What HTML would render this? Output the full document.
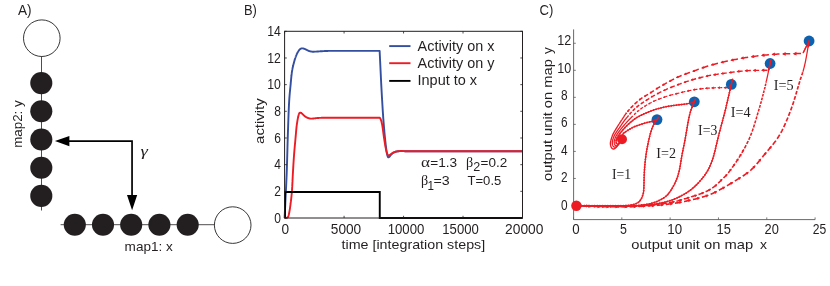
<!DOCTYPE html>
<html><head><meta charset="utf-8"><title>Figure</title>
<style>
html,body{margin:0;padding:0;background:#fff;}
body{width:830px;height:286px;overflow:hidden;font-family:"Liberation Sans",sans-serif;}
svg{display:block;will-change:transform;}
text{white-space:pre;}
</style></head><body>
<svg width="830" height="286" viewBox="0 0 830 286">
<rect width="830" height="286" fill="#fff"/>
<text x="18.00" y="14.70" font-size="14" font-family="Liberation Sans" fill="#231f20" textLength="13.60" lengthAdjust="spacingAndGlyphs" >A)</text>
<line x1="41.5" y1="56" x2="41.5" y2="210.5" stroke="#231f20" stroke-width="0.8"/>
<line x1="60.6" y1="224.7" x2="215" y2="224.7" stroke="#231f20" stroke-width="0.8"/>
<circle cx="41.8" cy="38.2" r="18.3" fill="#fff" stroke="#231f20" stroke-width="0.9"/>
<circle cx="232.7" cy="225.1" r="18.3" fill="#fff" stroke="#231f20" stroke-width="0.9"/>
<circle cx="41.3" cy="83.1" r="11.05" fill="#231f20"/>
<circle cx="41.3" cy="111.3" r="11.05" fill="#231f20"/>
<circle cx="41.3" cy="139.5" r="11.05" fill="#231f20"/>
<circle cx="41.3" cy="167.7" r="11.05" fill="#231f20"/>
<circle cx="41.3" cy="195.9" r="11.05" fill="#231f20"/>
<circle cx="74.8" cy="224.7" r="11.05" fill="#231f20"/>
<circle cx="103.0" cy="224.7" r="11.05" fill="#231f20"/>
<circle cx="131.2" cy="224.7" r="11.05" fill="#231f20"/>
<circle cx="159.4" cy="224.7" r="11.05" fill="#231f20"/>
<circle cx="187.7" cy="224.7" r="11.05" fill="#231f20"/>
<path d="M68 141.2H132.05V196" fill="none" stroke="#000" stroke-width="1.7"/>
<path d="M54.9 141.1L69.4 135.9V146.3Z" fill="#000"/>
<path d="M132.1 210.3L127.0 195.1H137.2Z" fill="#000"/>
<text x="140.60" y="155.90" font-size="15.5" font-family="Liberation Serif" fill="#231f20" textLength="7.40" lengthAdjust="spacingAndGlyphs" font-style="italic">γ</text>
<text x="21.70" y="147.80" font-size="13.5" font-family="Liberation Sans" fill="#231f20" textLength="47.50" lengthAdjust="spacingAndGlyphs" transform="rotate(-90 21.70 147.80)" >map2: y</text>
<text x="124.60" y="250.70" font-size="13.5" font-family="Liberation Sans" fill="#231f20" textLength="48.20" lengthAdjust="spacingAndGlyphs" >map1: x</text>
<text x="244.00" y="14.50" font-size="14" font-family="Liberation Sans" fill="#231f20" textLength="12.90" lengthAdjust="spacingAndGlyphs" >B)</text>
<path d="M284.60 218.00L284.72 215.54L284.84 213.09L284.84 213.08L284.96 210.60L285.08 208.12L285.08 208.10L285.20 205.60L285.31 203.11L285.32 203.08L285.44 200.54L285.55 198.04L285.55 198.00L285.67 195.52L285.79 193.13L285.79 193.08L285.91 190.66L286.03 188.29L286.03 188.23L286.15 185.75L286.27 183.28L286.27 183.21L286.39 180.57L286.51 177.90L286.51 177.80L286.63 174.89L286.74 171.92L286.75 171.80L286.87 168.38L286.98 164.76L286.99 164.59L287.11 160.53L287.22 156.47L287.23 156.27L287.35 151.93L287.46 147.79L287.46 147.58L287.58 143.32L287.70 139.46L287.70 139.24L287.82 135.44L287.93 132.12L287.94 131.92L288.06 128.40L288.17 125.12L288.18 124.90L288.30 121.44L288.41 118.28L288.42 118.06L288.54 114.81L288.65 111.93L288.66 111.72L288.78 108.83L288.89 106.36L288.90 106.17L289.02 103.80L289.13 101.89L289.14 101.74L289.25 99.89L289.36 98.32L289.37 98.19L289.49 96.60L289.60 95.24L289.61 95.12L289.73 93.72L289.84 92.51L289.85 92.39L289.97 91.13L290.08 90.01L290.09 89.90L290.21 88.69L290.32 87.61L290.33 87.49L290.45 86.29L290.55 85.19L290.57 85.06L290.69 83.79L290.79 82.65L290.81 82.50L290.93 81.21L291.03 80.06L291.04 79.91L291.16 78.64L291.27 77.54L291.28 77.40L291.40 76.20L291.51 75.21L291.52 75.07L291.64 74.02L291.75 73.17L291.76 73.06L291.88 72.20L291.98 71.54L292.00 71.45L292.12 70.73L292.22 70.13L292.24 70.04L292.36 69.39L292.46 68.85L292.48 68.77L292.60 68.17L292.70 67.68L292.72 67.60L292.84 67.05L292.94 66.59L292.95 66.52L293.07 66.01L293.18 65.58L293.19 65.51L293.31 65.03L293.41 64.63L293.43 64.56L293.55 64.10L293.65 63.71L293.67 63.64L293.79 63.19L293.89 62.82L293.91 62.75L294.03 62.30L294.13 61.93L294.15 61.85L294.27 61.41L294.37 61.05L294.39 60.98L294.51 60.55L294.60 60.21L294.63 60.14L294.74 59.74L294.84 59.41L294.86 59.34L294.98 58.96L295.08 58.65L295.10 58.59L295.22 58.23L295.32 57.94L295.34 57.87L295.46 57.53L295.56 57.27L295.58 57.20L295.70 56.88L295.80 56.62L295.82 56.56L295.94 56.25L296.03 56.00L296.06 55.94L296.18 55.63L296.27 55.39L296.30 55.33L296.42 55.04L296.51 54.81L296.53 54.75L296.65 54.47L296.75 54.25L296.77 54.19L296.89 53.93L296.99 53.72L297.01 53.67L297.13 53.42L297.22 53.23L297.25 53.17L297.37 52.94L297.46 52.77L297.49 52.72L297.61 52.50L297.70 52.34L297.73 52.30L297.85 52.09L297.94 51.94L297.97 51.89L298.09 51.70L298.18 51.55L298.21 51.50L298.33 51.31L298.42 51.17L298.44 51.12L298.56 50.94L298.65 50.81L298.68 50.76L298.80 50.59L298.89 50.46L298.92 50.42L299.04 50.26L299.13 50.14L299.16 50.10L299.28 49.95L299.37 49.85L299.40 49.81L299.52 49.68L299.61 49.58L299.64 49.55L299.76 49.43L299.84 49.35L299.88 49.32L300.00 49.22L300.08 49.16L300.12 49.13L300.23 49.04L300.32 48.98L300.35 48.95L300.47 48.87L300.56 48.81L300.59 48.79L300.71 48.72L300.80 48.67L300.83 48.65L300.95 48.60L301.04 48.56L301.07 48.55L301.19 48.52L301.27 48.50L301.31 48.49L301.43 48.47L301.51 48.46L301.55 48.45L301.67 48.43L301.75 48.42L301.79 48.42L301.91 48.40L301.99 48.39L302.02 48.39L302.14 48.38L302.23 48.38L302.26 48.37L302.38 48.37L302.46 48.37L302.50 48.37L302.62 48.38L302.70 48.38L302.74 48.39L302.86 48.40L302.94 48.42L302.98 48.42L303.10 48.45L303.18 48.46L303.22 48.47L303.34 48.50L303.42 48.53L303.46 48.54L303.58 48.57L303.66 48.59L303.70 48.61L303.81 48.64L303.89 48.67L303.93 48.68L304.05 48.72L304.13 48.74L304.17 48.75L304.29 48.79L304.37 48.82L304.41 48.83L304.53 48.87L304.61 48.91L304.65 48.92L304.77 48.97L304.85 49.01L304.89 49.03L305.01 49.08L305.09 49.12L305.13 49.14L305.25 49.20L305.32 49.24L305.37 49.26L305.49 49.32L305.56 49.36L305.61 49.38L305.72 49.44L305.80 49.47L305.84 49.49L305.96 49.55L306.04 49.58L306.08 49.60L306.20 49.66L306.28 49.69L306.32 49.71L306.44 49.77L306.51 49.81L306.56 49.83L306.68 49.89L306.75 49.93L306.80 49.95L306.92 50.01L306.99 50.05L307.04 50.07L307.16 50.14L307.23 50.17L307.28 50.20L307.40 50.26L307.47 50.30L307.51 50.32L307.63 50.38L307.71 50.42L307.75 50.44L307.87 50.50L307.94 50.54L307.99 50.56L308.11 50.62L308.18 50.65L308.23 50.67L308.35 50.73L308.42 50.76L308.47 50.78L308.59 50.83L308.66 50.86L308.71 50.88L308.83 50.93L308.90 50.96L308.95 50.98L309.07 51.02L309.13 51.04L309.19 51.06L309.31 51.10L309.37 51.12L309.42 51.13L309.54 51.16L309.61 51.18L309.66 51.19L309.78 51.22L309.85 51.24L309.90 51.25L310.02 51.28L310.09 51.29L310.14 51.31L310.26 51.33L310.33 51.35L310.38 51.36L310.50 51.39L310.56 51.40L310.62 51.42L310.74 51.44L310.80 51.46L310.86 51.47L310.98 51.49L311.04 51.51L311.10 51.52L311.21 51.54L311.28 51.55L311.33 51.56L311.45 51.58L311.52 51.59L311.57 51.60L311.69 51.62L311.75 51.63L311.81 51.63L311.93 51.65L311.99 51.66L312.05 51.66L312.17 51.67L312.23 51.68L312.29 51.68L312.41 51.69L312.47 51.70L312.53 51.70L312.65 51.70L312.71 51.70L312.77 51.70L312.89 51.70L312.95 51.70L313.00 51.70L313.12 51.70L313.18 51.70L313.24 51.70L313.36 51.70L313.42 51.70L313.48 51.70L313.60 51.70L313.66 51.69L313.72 51.69L313.84 51.69L313.90 51.69L313.96 51.69L314.08 51.68L314.14 51.68L314.20 51.68L314.32 51.68L314.37 51.67L314.44 51.67L314.56 51.67L314.61 51.67L314.68 51.66L314.80 51.66L314.85 51.66L314.91 51.65L315.03 51.65L315.09 51.65L315.15 51.64L315.27 51.64L315.33 51.64L315.39 51.63L315.51 51.63L315.57 51.62L315.63 51.62L315.75 51.62L315.80 51.61L315.87 51.61L315.99 51.61L316.04 51.60L316.11 51.60L316.23 51.59L316.28 51.59L316.35 51.59L316.47 51.58L316.52 51.58L316.59 51.58L316.70 51.57L316.76 51.57L316.82 51.57L316.94 51.56L316.99 51.56L317.06 51.55L317.18 51.54L317.23 51.54L317.30 51.54L317.42 51.53L317.47 51.52L317.54 51.52L317.66 51.51L317.71 51.51L317.78 51.50L317.90 51.49L317.95 51.49L318.02 51.48L318.14 51.47L318.19 51.47L318.26 51.46L318.38 51.45L318.42 51.45L318.49 51.44L318.61 51.43L318.66 51.43L318.73 51.42L318.85 51.41L318.90 51.41L318.97 51.40L319.09 51.39L319.14 51.39L319.21 51.38L319.33 51.37L319.38 51.37L319.45 51.36L319.57 51.35L319.62 51.35L319.69 51.34L319.81 51.33L319.85 51.33L319.93 51.33L320.05 51.32L320.09 51.32L320.17 51.31L320.29 51.30L320.33 51.30L320.57 51.29L320.81 51.27L321.04 51.26L321.28 51.25L321.52 51.23L321.76 51.22L322.00 51.20L322.24 51.19L322.47 51.18L322.71 51.16L322.95 51.15L323.19 51.14L323.43 51.12L323.66 51.11L323.90 51.10L324.14 51.08L324.38 51.07L324.62 51.06L324.86 51.05L325.09 51.03L325.33 51.02L325.57 51.01L325.81 51.00L326.05 50.99L326.28 50.98L326.52 50.97L326.76 50.96L327.00 50.95L327.24 50.95L327.48 50.94L327.71 50.93L327.95 50.93L328.19 50.92L328.43 50.92L328.67 50.91L328.90 50.91L329.14 50.91L329.38 50.90L329.62 50.90L329.86 50.90L330.10 50.90L330.33 50.90L330.57 50.90L330.81 50.90L331.05 50.90L331.29 50.90L331.53 50.90L331.76 50.90L332.00 50.90L332.24 50.90L332.48 50.90L332.72 50.90L332.95 50.90L333.19 50.90L333.43 50.90L333.67 50.90L333.91 50.90L334.15 50.90L334.38 50.90L334.62 50.90L334.86 50.90L335.10 50.90L335.34 50.90L335.57 50.90L335.81 50.90L336.05 50.90L336.29 50.90L336.53 50.90L336.77 50.90L337.00 50.90L337.24 50.90L337.48 50.90L337.72 50.90L337.96 50.90L338.19 50.90L338.43 50.90L338.67 50.90L338.91 50.90L339.15 50.90L339.39 50.90L339.62 50.90L339.86 50.90L340.10 50.90L340.34 50.90L340.58 50.90L340.81 50.90L341.05 50.90L341.29 50.90L341.53 50.90L341.77 50.90L342.01 50.90L342.24 50.90L342.48 50.90L342.72 50.90L342.96 50.90L343.20 50.90L343.43 50.90L343.67 50.90L343.91 50.90L344.15 50.90L344.39 50.90L344.63 50.90L344.86 50.90L345.10 50.90L345.34 50.90L345.58 50.90L345.82 50.90L346.06 50.90L346.29 50.90L346.53 50.90L346.77 50.90L347.01 50.90L347.25 50.90L347.48 50.90L347.72 50.90L347.96 50.90L348.20 50.90L348.44 50.90L348.68 50.90L348.91 50.90L349.15 50.90L349.39 50.90L349.63 50.90L349.87 50.90L350.10 50.90L350.34 50.90L350.58 50.90L350.82 50.90L351.06 50.90L351.30 50.90L351.53 50.90L351.77 50.90L352.01 50.90L352.25 50.90L352.49 50.90L352.72 50.90L352.96 50.90L353.20 50.90L353.44 50.90L353.68 50.90L353.92 50.90L354.15 50.90L354.39 50.90L354.63 50.90L354.87 50.90L355.11 50.90L355.34 50.90L355.58 50.90L355.82 50.90L356.06 50.90L356.30 50.90L356.54 50.90L356.77 50.90L357.01 50.90L357.25 50.90L357.49 50.90L357.73 50.90L357.97 50.90L358.20 50.90L358.44 50.90L358.68 50.90L358.92 50.90L359.16 50.90L359.39 50.90L359.63 50.90L359.87 50.90L360.11 50.90L360.35 50.90L360.59 50.90L360.82 50.90L361.06 50.90L361.30 50.90L361.54 50.90L361.78 50.90L362.01 50.90L362.25 50.90L362.49 50.90L362.73 50.90L362.97 50.90L363.21 50.90L363.44 50.90L363.68 50.90L363.92 50.90L364.16 50.90L364.40 50.90L364.63 50.90L364.87 50.90L365.11 50.90L365.35 50.90L365.59 50.90L365.83 50.90L366.06 50.90L366.30 50.90L366.54 50.90L366.78 50.90L367.02 50.90L367.25 50.90L367.49 50.90L367.73 50.90L367.97 50.90L368.21 50.90L368.45 50.90L368.68 50.90L368.92 50.90L369.16 50.90L369.40 50.90L369.64 50.90L369.87 50.90L370.11 50.90L370.35 50.90L370.59 50.90L370.83 50.90L371.07 50.90L371.30 50.90L371.54 50.90L371.78 50.90L372.02 50.90L372.26 50.90L372.50 50.90L372.73 50.90L372.97 50.90L373.21 50.90L373.45 50.90L373.69 50.90L373.92 50.90L374.16 50.90L374.40 50.90L374.64 50.90L374.88 50.90L375.12 50.90L375.35 50.90L375.59 50.90L375.83 50.90L376.07 50.90L376.31 50.90L376.54 50.90L376.78 50.90L377.02 50.90L377.26 50.90L377.50 50.90L377.74 50.90L377.97 50.90L378.21 50.90L378.45 50.90L378.69 50.90L378.93 50.90L379.16 50.90L379.40 50.90L379.64 50.90L379.64 50.90L379.76 53.46L379.88 56.00L380.00 58.53L380.00 58.53L380.12 61.05L380.24 63.54L380.36 66.02L380.36 66.02L380.48 68.50L380.60 71.00L380.72 73.50L380.72 73.50L380.83 76.00L380.95 78.47L381.07 80.91L381.07 80.91L381.19 83.31L381.31 85.65L381.43 87.91L381.43 87.91L381.55 90.09L381.67 92.22L381.79 94.33L381.79 94.33L381.91 96.43L382.03 98.50L382.15 100.54L382.15 100.54L382.27 102.56L382.39 104.54L382.51 106.49L382.51 106.49L382.62 108.41L382.74 110.29L382.86 112.12L382.86 112.12L382.98 113.92L383.10 115.67L383.22 117.37L383.22 117.37L383.34 119.01L383.46 120.61L383.58 122.15L383.58 122.15L383.70 123.65L383.82 125.11L383.94 126.55L383.94 126.55L384.06 127.96L384.18 129.33L384.30 130.68L384.30 130.68L384.41 132.00L384.53 133.29L384.65 134.56L384.65 134.56L384.77 135.79L384.89 137.01L385.01 138.19L385.01 138.19L385.13 139.36L385.25 140.50L385.37 141.61L385.37 141.61L385.49 142.71L385.61 143.78L385.73 144.83L385.73 144.83L385.85 145.87L385.97 146.89L386.09 147.89L386.09 147.89L386.21 148.85L386.32 149.76L386.44 150.62L386.44 150.62L386.56 151.41L386.68 152.12L386.80 152.80L386.80 152.80L386.92 153.46L387.04 154.08L387.16 154.65L387.16 154.65L387.28 155.16L387.40 155.59L387.52 155.92L387.52 155.92L387.64 156.23L387.76 156.52L387.88 156.79L387.88 156.79L388.00 157.02L388.11 157.19L388.23 157.30L388.23 157.30L388.35 157.32L388.47 157.31L388.59 157.28L388.59 157.28L388.71 157.23L388.83 157.18L388.95 157.12L388.95 157.12L389.07 157.05L389.19 156.98L389.31 156.90L389.31 156.90L389.43 156.81L389.55 156.69L389.67 156.55L389.67 156.55L389.79 156.39L389.90 156.22L390.02 156.04L390.02 156.04L390.14 155.86L390.26 155.67L390.38 155.49L390.38 155.49L390.50 155.32L390.62 155.16L390.74 155.01L390.74 155.01L390.86 154.88L390.98 154.76L391.10 154.64L391.10 154.64L391.22 154.52L391.34 154.40L391.46 154.28L391.46 154.28L391.58 154.16L391.70 154.05L391.81 153.94L391.81 153.94L391.93 153.83L392.05 153.72L392.17 153.61L392.17 153.61L392.29 153.51L392.41 153.41L392.53 153.32L392.53 153.32L392.65 153.22L392.77 153.14L392.89 153.05L392.89 153.05L393.01 152.97L393.13 152.89L393.25 152.82L393.25 152.82L393.37 152.75L393.49 152.69L393.60 152.63L393.60 152.63L393.72 152.58L393.84 152.52L393.96 152.47L393.96 152.47L394.08 152.41L394.20 152.36L394.32 152.31L394.32 152.31L394.44 152.26L394.56 152.21L394.68 152.17L394.68 152.17L394.80 152.12L394.92 152.08L395.04 152.03L395.04 152.03L395.16 151.99L395.28 151.95L395.39 151.91L395.39 151.91L395.51 151.87L395.63 151.83L395.75 151.80L395.75 151.80L395.87 151.76L395.99 151.73L396.11 151.70L396.11 151.70L396.23 151.66L396.35 151.63L396.47 151.61L396.47 151.61L396.59 151.58L396.71 151.55L396.83 151.53L396.83 151.53L396.95 151.51L397.07 151.48L397.19 151.46L397.19 151.46L397.30 151.45L397.42 151.43L397.54 151.41L397.54 151.41L397.66 151.39L397.78 151.37L397.90 151.35L397.90 151.35L398.02 151.34L398.14 151.32L398.26 151.30L398.26 151.30L398.38 151.28L398.50 151.27L398.62 151.25L398.62 151.25L398.74 151.24L398.86 151.22L398.98 151.21L398.98 151.21L399.09 151.19L399.21 151.18L399.33 151.16L399.33 151.16L399.45 151.15L399.57 151.14L399.69 151.13L399.69 151.13L399.81 151.12L399.93 151.11L400.05 151.10L400.05 151.10L400.17 151.09L400.29 151.08L400.41 151.08L400.41 151.08L400.53 151.07L400.65 151.06L400.77 151.06L400.77 151.06L400.88 151.06L401.00 151.06L401.12 151.05L401.12 151.05L401.24 151.05L401.36 151.06L401.48 151.06L401.48 151.06L401.60 151.06L401.72 151.06L401.84 151.06L401.84 151.06L401.96 151.06L402.08 151.07L402.20 151.07L402.20 151.07L402.32 151.07L402.44 151.08L402.56 151.08L402.56 151.08L402.68 151.09L402.79 151.09L402.91 151.09L402.91 151.09L403.03 151.10L403.15 151.10L403.27 151.11L403.27 151.11L403.39 151.12L403.51 151.12L403.63 151.13L403.63 151.13L403.75 151.13L403.87 151.14L403.99 151.15L403.99 151.15L404.11 151.15L404.23 151.16L404.35 151.17L404.35 151.17L404.47 151.17L404.58 151.18L404.70 151.19L404.70 151.19L404.82 151.19L404.94 151.20L405.06 151.21L405.06 151.21L405.18 151.21L405.30 151.22L405.42 151.23L405.42 151.23L405.54 151.23L405.66 151.24L405.78 151.24L405.78 151.24L405.90 151.25L406.02 151.26L406.14 151.26L406.14 151.26L406.26 151.27L406.37 151.27L406.49 151.28L406.49 151.28L406.61 151.28L406.73 151.29L406.85 151.29L406.85 151.29L406.97 151.30L407.09 151.30L407.21 151.30L407.21 151.30L407.33 151.31L407.45 151.31L407.57 151.31L407.57 151.31L407.69 151.32L407.81 151.32L407.93 151.32L407.93 151.32L408.05 151.32L408.17 151.32L408.28 151.32L408.28 151.32L408.40 151.32L408.52 151.32L408.64 151.32L408.64 151.32L408.76 151.32L408.88 151.32L409.00 151.32L409.00 151.32L409.12 151.32L409.24 151.32L409.36 151.32L409.36 151.32L409.48 151.32L409.60 151.32L409.72 151.32L409.72 151.32L409.84 151.32L409.96 151.32L410.07 151.32L410.07 151.32L410.19 151.32L410.31 151.32L410.43 151.32L410.43 151.32L410.55 151.32L410.67 151.32L410.79 151.32L410.79 151.32L410.91 151.32L411.03 151.32L411.15 151.32L411.15 151.32L411.27 151.32L411.39 151.32L411.51 151.32L411.51 151.32L411.63 151.32L411.75 151.32L411.86 151.32L411.86 151.32L411.98 151.32L412.10 151.32L412.22 151.32L412.22 151.32L412.34 151.32L412.46 151.32L412.58 151.32L412.58 151.32L412.70 151.32L412.82 151.32L412.94 151.32L412.94 151.32L413.06 151.32L413.18 151.32L413.30 151.32L413.30 151.32L413.42 151.32L413.54 151.32L413.66 151.32L413.66 151.32L413.77 151.32L413.89 151.32L414.01 151.32L414.01 151.32L414.13 151.32L414.25 151.32L414.37 151.32L414.37 151.32L414.49 151.32L414.61 151.32L414.73 151.32L414.73 151.32L414.85 151.32L414.97 151.32L415.09 151.32L415.09 151.32L415.21 151.32L415.33 151.32L415.45 151.32L415.80 151.32L416.16 151.32L416.52 151.32L416.88 151.32L417.24 151.32L417.59 151.32L417.95 151.32L418.31 151.32L418.67 151.32L419.03 151.32L419.38 151.32L419.74 151.32L420.10 151.32L420.46 151.32L420.82 151.32L421.17 151.32L421.53 151.32L421.89 151.32L422.25 151.32L422.61 151.32L422.96 151.32L423.32 151.32L423.68 151.32L424.04 151.32L424.40 151.32L424.75 151.32L425.11 151.32L425.47 151.32L425.83 151.32L426.19 151.32L426.54 151.32L426.90 151.32L427.26 151.32L427.62 151.32L427.98 151.32L428.33 151.32L428.69 151.32L429.05 151.32L429.41 151.32L429.77 151.32L430.13 151.32L430.48 151.32L430.84 151.32L431.20 151.32L431.56 151.32L431.92 151.32L432.27 151.32L432.63 151.32L432.99 151.32L433.35 151.32L433.71 151.32L434.06 151.32L434.42 151.32L434.78 151.32L435.14 151.32L435.50 151.32L435.85 151.32L436.21 151.32L436.57 151.32L436.93 151.32L437.29 151.32L437.64 151.32L438.00 151.32L438.36 151.32L438.72 151.32L439.08 151.32L439.43 151.32L439.79 151.32L440.15 151.32L440.51 151.32L440.87 151.32L441.22 151.32L441.58 151.32L441.94 151.32L442.30 151.32L442.66 151.32L443.01 151.32L443.37 151.32L443.73 151.32L444.09 151.32L444.45 151.32L444.80 151.32L445.16 151.32L445.52 151.32L445.88 151.32L446.24 151.32L446.59 151.32L446.95 151.32L447.31 151.32L447.67 151.32L448.03 151.32L448.39 151.32L448.74 151.32L449.10 151.32L449.46 151.32L449.82 151.32L450.18 151.32L450.53 151.32L450.89 151.32L451.25 151.32L451.61 151.32L451.97 151.32L452.32 151.32L452.68 151.32L453.04 151.32L453.40 151.32L453.76 151.32L454.11 151.32L454.47 151.32L454.83 151.32L455.19 151.32L455.55 151.32L455.90 151.32L456.26 151.32L456.62 151.32L456.98 151.32L457.34 151.32L457.69 151.32L458.05 151.32L458.41 151.32L458.77 151.32L459.13 151.32L459.48 151.32L459.84 151.32L460.20 151.32L460.56 151.32L460.92 151.32L461.27 151.32L461.63 151.32L461.99 151.32L462.35 151.32L462.71 151.32L463.06 151.32L463.42 151.32L463.78 151.32L464.14 151.32L464.50 151.32L464.86 151.32L465.21 151.32L465.57 151.32L465.93 151.32L466.29 151.32L466.65 151.32L467.00 151.32L467.36 151.32L467.72 151.32L468.08 151.32L468.44 151.32L468.79 151.32L469.15 151.32L469.51 151.32L469.87 151.32L470.23 151.32L470.58 151.32L470.94 151.32L471.30 151.32L471.66 151.32L472.02 151.32L472.37 151.32L472.73 151.32L473.09 151.32L473.45 151.32L473.81 151.32L474.16 151.32L474.52 151.32L474.88 151.32L475.24 151.32L475.60 151.32L475.95 151.32L476.31 151.32L476.67 151.32L477.03 151.32L477.39 151.32L477.74 151.32L478.10 151.32L478.46 151.32L478.82 151.32L479.18 151.32L479.53 151.32L479.89 151.32L480.25 151.32L480.61 151.32L480.97 151.32L481.33 151.32L481.68 151.32L482.04 151.32L482.40 151.32L482.76 151.32L483.12 151.32L483.47 151.32L483.83 151.32L484.19 151.32L484.55 151.32L484.91 151.32L485.26 151.32L485.62 151.32L485.98 151.32L486.34 151.32L486.70 151.32L487.05 151.32L487.41 151.32L487.77 151.32L488.13 151.32L488.49 151.32L488.84 151.32L489.20 151.32L489.56 151.32L489.92 151.32L490.28 151.32L490.63 151.32L490.99 151.32L491.35 151.32L491.71 151.32L492.07 151.32L492.42 151.32L492.78 151.32L493.14 151.32L493.50 151.32L493.86 151.32L494.21 151.32L494.57 151.32L494.93 151.32L495.29 151.32L495.65 151.32L496.00 151.32L496.36 151.32L496.72 151.32L497.08 151.32L497.44 151.32L497.80 151.32L498.15 151.32L498.51 151.32L498.87 151.32L499.23 151.32L499.59 151.32L499.94 151.32L500.30 151.32L500.66 151.32L501.02 151.32L501.38 151.32L501.73 151.32L502.09 151.32L502.45 151.32L502.81 151.32L503.17 151.32L503.52 151.32L503.88 151.32L504.24 151.32L504.60 151.32L504.96 151.32L505.31 151.32L505.67 151.32L506.03 151.32L506.39 151.32L506.75 151.32L507.10 151.32L507.46 151.32L507.82 151.32L508.18 151.32L508.54 151.32L508.89 151.32L509.25 151.32L509.61 151.32L509.97 151.32L510.33 151.32L510.68 151.32L511.04 151.32L511.40 151.32L511.76 151.32L512.12 151.32L512.47 151.32L512.83 151.32L513.19 151.32L513.55 151.32L513.91 151.32L514.27 151.32L514.62 151.32L514.98 151.32L515.34 151.32L515.70 151.32L516.06 151.32L516.41 151.32L516.77 151.32L517.13 151.32L517.49 151.32L517.85 151.32L518.20 151.32L518.56 151.32L518.92 151.32L519.28 151.32L519.64 151.32L519.99 151.32L520.35 151.32L520.71 151.32L521.07 151.32L521.43 151.32L521.78 151.32L522.14 151.32L522.50 151.32" fill="none" stroke="#344ea0" stroke-width="1.9" stroke-linejoin="round"/>
<path d="M284.60 218.00L284.72 218.00L284.84 218.00L284.84 218.00L284.96 217.99L285.08 217.99L285.08 217.99L285.20 217.98L285.32 217.97L285.32 217.97L285.44 217.97L285.55 217.96L285.55 217.96L285.67 217.94L285.79 217.93L285.79 217.93L285.91 217.92L286.03 217.90L286.03 217.90L286.15 217.88L286.27 217.87L286.27 217.87L286.39 217.85L286.51 217.83L286.51 217.83L286.63 217.80L286.75 217.78L286.75 217.78L286.87 217.76L286.98 217.73L286.99 217.73L287.11 217.69L287.22 217.64L287.23 217.64L287.35 217.57L287.46 217.48L287.46 217.48L287.58 217.38L287.70 217.26L287.70 217.26L287.82 217.12L287.94 216.98L287.94 216.98L288.06 216.82L288.18 216.65L288.18 216.65L288.30 216.42L288.42 216.12L288.42 216.11L288.54 215.73L288.65 215.30L288.66 215.29L288.78 214.79L288.89 214.27L288.90 214.26L289.02 213.69L289.13 213.13L289.14 213.11L289.25 212.51L289.37 211.94L289.37 211.92L289.49 211.29L289.61 210.63L289.61 210.61L289.73 209.88L289.85 209.13L289.85 209.10L289.97 208.29L290.09 207.48L290.09 207.45L290.21 206.57L290.32 205.71L290.33 205.68L290.45 204.77L290.56 203.88L290.57 203.84L290.69 202.92L290.80 202.03L290.81 201.99L290.93 201.04L291.04 200.12L291.04 200.07L291.16 199.07L291.28 198.07L291.28 198.02L291.40 196.91L291.52 195.80L291.52 195.75L291.64 194.51L291.75 193.25L291.76 193.18L291.88 191.77L291.99 190.27L292.00 190.18L292.12 188.29L292.23 186.27L292.24 186.15L292.36 183.83L292.47 181.55L292.48 181.41L292.60 178.97L292.71 176.70L292.72 176.57L292.84 174.28L292.95 172.30L292.95 172.19L293.07 170.16L293.19 168.27L293.19 168.15L293.31 166.16L293.42 164.31L293.43 164.19L293.55 162.27L293.66 160.52L293.67 160.40L293.79 158.59L293.90 156.95L293.91 156.84L294.03 155.16L294.14 153.68L294.15 153.57L294.27 152.06L294.38 150.71L294.39 150.61L294.51 149.22L294.62 147.97L294.63 147.87L294.74 146.56L294.86 145.37L294.86 145.28L294.98 144.01L295.09 142.84L295.10 142.75L295.22 141.48L295.33 140.30L295.34 140.20L295.46 138.90L295.57 137.68L295.58 137.57L295.70 136.18L295.81 134.87L295.82 134.75L295.94 133.31L296.05 132.01L296.06 131.89L296.18 130.52L296.29 129.33L296.30 129.23L296.42 128.04L296.52 127.06L296.53 126.98L296.65 126.00L296.76 125.15L296.77 125.08L296.89 124.20L297.00 123.45L297.01 123.38L297.13 122.59L297.24 121.90L297.25 121.83L297.37 121.10L297.48 120.46L297.49 120.40L297.61 119.71L297.72 119.10L297.73 119.04L297.85 118.40L297.96 117.85L297.97 117.80L298.09 117.22L298.19 116.74L298.21 116.69L298.33 116.20L298.43 115.75L298.44 115.70L298.56 115.22L298.67 114.81L298.68 114.76L298.80 114.35L298.91 114.02L298.92 113.99L299.04 113.71L299.15 113.53L299.16 113.51L299.28 113.33L299.39 113.18L299.40 113.16L299.52 113.01L299.63 112.89L299.64 112.88L299.76 112.77L299.86 112.70L299.88 112.70L300.00 112.65L300.10 112.65L300.12 112.65L300.23 112.66L300.34 112.68L300.35 112.68L300.47 112.71L300.58 112.75L300.59 112.75L300.71 112.80L300.82 112.84L300.83 112.85L300.95 112.90L301.06 112.95L301.07 112.96L301.19 113.02L301.29 113.07L301.31 113.08L301.43 113.14L301.53 113.21L301.55 113.22L301.67 113.31L301.77 113.39L301.79 113.41L301.91 113.51L302.01 113.60L302.02 113.61L302.14 113.72L302.25 113.81L302.26 113.82L302.38 113.93L302.49 114.02L302.50 114.03L302.62 114.14L302.73 114.24L302.74 114.25L302.86 114.37L302.96 114.47L302.98 114.49L303.10 114.61L303.20 114.72L303.22 114.73L303.34 114.86L303.44 114.96L303.46 114.98L303.58 115.10L303.68 115.20L303.70 115.22L303.81 115.34L303.92 115.44L303.93 115.45L304.05 115.56L304.16 115.65L304.17 115.67L304.29 115.77L304.40 115.86L304.41 115.87L304.53 115.97L304.63 116.06L304.65 116.07L304.77 116.17L304.87 116.25L304.89 116.26L305.01 116.36L305.11 116.44L305.13 116.45L305.25 116.54L305.35 116.62L305.37 116.63L305.49 116.71L305.59 116.78L305.61 116.80L305.72 116.87L305.83 116.94L305.84 116.95L305.96 117.02L306.06 117.08L306.08 117.09L306.20 117.16L306.30 117.21L306.32 117.22L306.44 117.29L306.54 117.34L306.56 117.35L306.68 117.41L306.78 117.46L306.80 117.47L306.92 117.53L307.02 117.58L307.04 117.59L307.16 117.65L307.26 117.69L307.28 117.70L307.40 117.75L307.50 117.80L307.51 117.81L307.63 117.85L307.73 117.89L307.75 117.90L307.87 117.95L307.97 117.98L307.99 117.99L308.11 118.03L308.21 118.06L308.23 118.07L308.35 118.10L308.45 118.13L308.47 118.14L308.59 118.17L308.69 118.20L308.71 118.21L308.83 118.24L308.93 118.27L308.95 118.28L309.07 118.31L309.17 118.34L309.19 118.34L309.31 118.37L309.40 118.40L309.42 118.41L309.54 118.44L309.64 118.46L309.66 118.47L309.78 118.49L309.88 118.52L309.90 118.52L310.02 118.54L310.12 118.56L310.14 118.57L310.26 118.59L310.36 118.60L310.38 118.60L310.50 118.62L310.60 118.63L310.62 118.63L310.74 118.64L310.83 118.65L310.86 118.65L310.98 118.65L311.07 118.65L311.10 118.65L311.21 118.65L311.31 118.65L311.33 118.64L311.45 118.64L311.55 118.64L311.57 118.64L311.69 118.63L311.79 118.62L311.81 118.62L311.93 118.62L312.03 118.61L312.05 118.61L312.17 118.60L312.27 118.59L312.29 118.59L312.41 118.58L312.50 118.57L312.53 118.57L312.65 118.56L312.74 118.55L312.77 118.55L312.89 118.53L312.98 118.52L313.00 118.52L313.12 118.51L313.22 118.50L313.24 118.50L313.36 118.48L313.46 118.47L313.48 118.47L313.60 118.46L313.70 118.45L313.72 118.44L313.84 118.43L313.94 118.42L313.96 118.42L314.08 118.41L314.17 118.40L314.20 118.40L314.32 118.38L314.41 118.38L314.44 118.37L314.56 118.36L314.65 118.35L314.68 118.35L314.80 118.33L314.89 118.32L314.91 118.32L315.03 118.31L315.13 118.29L315.15 118.29L315.27 118.28L315.37 118.26L315.39 118.26L315.51 118.25L315.60 118.23L315.63 118.23L315.75 118.21L315.84 118.20L315.87 118.20L315.99 118.18L316.08 118.17L316.11 118.17L316.23 118.15L316.32 118.14L316.35 118.14L316.47 118.12L316.56 118.11L316.59 118.11L316.70 118.09L316.80 118.08L316.82 118.08L316.94 118.06L317.04 118.05L317.06 118.05L317.18 118.04L317.27 118.03L317.30 118.03L317.42 118.02L317.51 118.01L317.54 118.01L317.66 118.00L317.75 117.99L317.78 117.99L317.90 117.98L317.99 117.98L318.02 117.98L318.14 117.97L318.23 117.96L318.26 117.96L318.38 117.96L318.47 117.95L318.49 117.95L318.61 117.94L318.70 117.94L318.73 117.94L318.85 117.93L318.94 117.93L318.97 117.93L319.09 117.92L319.18 117.92L319.21 117.91L319.33 117.91L319.42 117.90L319.45 117.90L319.57 117.90L319.66 117.89L319.69 117.89L319.81 117.89L319.90 117.88L319.93 117.88L320.05 117.87L320.14 117.87L320.17 117.87L320.29 117.86L320.37 117.86L320.61 117.85L320.85 117.84L321.09 117.83L321.33 117.82L321.57 117.81L321.81 117.80L322.04 117.79L322.28 117.79L322.52 117.78L322.76 117.77L323.00 117.76L323.24 117.76L323.47 117.75L323.71 117.75L323.95 117.74L324.19 117.74L324.43 117.73L324.67 117.73L324.91 117.72L325.14 117.72L325.38 117.72L325.62 117.72L325.86 117.72L326.10 117.72L326.34 117.72L326.58 117.72L326.81 117.72L327.05 117.72L327.29 117.72L327.53 117.72L327.77 117.72L328.01 117.72L328.24 117.72L328.48 117.72L328.72 117.72L328.96 117.72L329.20 117.72L329.44 117.72L329.68 117.72L329.91 117.72L330.15 117.72L330.39 117.72L330.63 117.72L330.87 117.72L331.11 117.72L331.35 117.72L331.58 117.72L331.82 117.72L332.06 117.72L332.30 117.72L332.54 117.72L332.78 117.72L333.01 117.72L333.25 117.72L333.49 117.72L333.73 117.72L333.97 117.72L334.21 117.72L334.45 117.72L334.68 117.72L334.92 117.72L335.16 117.72L335.40 117.72L335.64 117.72L335.88 117.72L336.12 117.72L336.35 117.72L336.59 117.72L336.83 117.72L337.07 117.72L337.31 117.72L337.55 117.72L337.78 117.72L338.02 117.72L338.26 117.72L338.50 117.72L338.74 117.72L338.98 117.72L339.22 117.72L339.45 117.72L339.69 117.72L339.93 117.72L340.17 117.72L340.41 117.72L340.65 117.72L340.89 117.72L341.12 117.72L341.36 117.72L341.60 117.72L341.84 117.72L342.08 117.72L342.32 117.72L342.55 117.72L342.79 117.72L343.03 117.72L343.27 117.72L343.51 117.72L343.75 117.72L343.99 117.72L344.22 117.72L344.46 117.72L344.70 117.72L344.94 117.72L345.18 117.72L345.42 117.72L345.66 117.72L345.89 117.72L346.13 117.72L346.37 117.72L346.61 117.72L346.85 117.72L347.09 117.72L347.32 117.72L347.56 117.72L347.80 117.72L348.04 117.72L348.28 117.72L348.52 117.72L348.76 117.72L348.99 117.72L349.23 117.72L349.47 117.72L349.71 117.72L349.95 117.72L350.19 117.72L350.42 117.72L350.66 117.72L350.90 117.72L351.14 117.72L351.38 117.72L351.62 117.72L351.86 117.72L352.09 117.72L352.33 117.72L352.57 117.72L352.81 117.72L353.05 117.72L353.29 117.72L353.53 117.72L353.76 117.72L354.00 117.72L354.24 117.72L354.48 117.72L354.72 117.72L354.96 117.72L355.19 117.72L355.43 117.72L355.67 117.72L355.91 117.72L356.15 117.72L356.39 117.72L356.63 117.72L356.86 117.72L357.10 117.72L357.34 117.72L357.58 117.72L357.82 117.72L358.06 117.72L358.30 117.72L358.53 117.72L358.77 117.72L359.01 117.72L359.25 117.72L359.49 117.72L359.73 117.72L359.96 117.72L360.20 117.72L360.44 117.72L360.68 117.72L360.92 117.72L361.16 117.72L361.40 117.72L361.63 117.72L361.87 117.72L362.11 117.72L362.35 117.72L362.59 117.72L362.83 117.72L363.07 117.72L363.30 117.72L363.54 117.72L363.78 117.72L364.02 117.72L364.26 117.72L364.50 117.72L364.73 117.72L364.97 117.72L365.21 117.72L365.45 117.72L365.69 117.72L365.93 117.72L366.17 117.72L366.40 117.72L366.64 117.72L366.88 117.72L367.12 117.72L367.36 117.72L367.60 117.72L367.84 117.72L368.07 117.72L368.31 117.72L368.55 117.72L368.79 117.72L369.03 117.72L369.27 117.72L369.50 117.72L369.74 117.72L369.98 117.72L370.22 117.72L370.46 117.72L370.70 117.72L370.94 117.72L371.17 117.72L371.41 117.72L371.65 117.72L371.89 117.72L372.13 117.72L372.37 117.72L372.61 117.72L372.84 117.72L373.08 117.72L373.32 117.72L373.56 117.72L373.80 117.72L374.04 117.72L374.27 117.72L374.51 117.72L374.75 117.72L374.99 117.72L375.23 117.72L375.47 117.72L375.71 117.72L375.94 117.72L376.18 117.72L376.42 117.72L376.66 117.72L376.90 117.72L377.14 117.72L377.38 117.72L377.61 117.72L377.85 117.72L378.09 117.72L378.33 117.72L378.57 117.72L378.81 117.72L379.04 117.72L379.28 117.72L379.52 117.72L379.76 117.72L379.76 117.72L379.88 117.84L380.00 117.99L380.12 118.17L380.12 118.17L380.24 118.38L380.36 118.60L380.48 118.85L380.48 118.85L380.60 119.12L380.71 119.40L380.83 119.69L380.83 119.69L380.95 119.99L381.07 120.32L381.19 120.68L381.19 120.69L381.31 121.09L381.43 121.52L381.55 121.98L381.55 121.99L381.67 122.48L381.79 123.00L381.91 123.54L381.91 123.55L382.03 124.11L382.15 124.69L382.26 125.30L382.27 125.32L382.39 126.00L382.50 126.75L382.62 127.52L382.62 127.54L382.74 128.37L382.86 129.24L382.98 130.11L382.98 130.13L383.10 131.04L383.22 131.96L383.34 132.86L383.34 132.88L383.46 133.80L383.58 134.71L383.70 135.57L383.70 135.60L383.82 136.46L383.94 137.29L384.05 138.06L384.06 138.08L384.18 138.85L384.30 139.63L384.41 140.38L384.41 140.41L384.53 141.18L384.65 141.95L384.77 142.69L384.77 142.71L384.89 143.46L385.01 144.19L385.13 144.88L385.13 144.91L385.25 145.60L385.37 146.26L385.48 146.88L385.49 146.90L385.61 147.51L385.73 148.08L385.84 148.61L385.85 148.63L385.97 149.17L386.09 149.70L386.20 150.18L386.20 150.20L386.32 150.69L386.44 151.15L386.56 151.57L386.56 151.59L386.68 151.99L386.80 152.37L386.91 152.71L386.92 152.72L387.04 153.06L387.16 153.38L387.27 153.67L387.28 153.69L387.40 153.98L387.52 154.24L387.63 154.46L387.64 154.47L387.76 154.67L387.88 154.82L387.99 154.95L388.00 154.96L388.11 155.09L388.23 155.21L388.35 155.31L388.35 155.32L388.47 155.40L388.59 155.44L388.70 155.46L388.71 155.45L388.83 155.44L388.95 155.42L389.06 155.38L389.07 155.38L389.19 155.33L389.31 155.28L389.42 155.23L389.43 155.23L389.55 155.17L389.67 155.11L389.78 155.05L389.79 155.04L389.90 154.96L390.02 154.88L390.13 154.79L390.14 154.79L390.26 154.69L390.38 154.59L390.49 154.51L390.50 154.50L390.62 154.40L390.74 154.31L390.85 154.24L390.86 154.23L390.98 154.14L391.10 154.06L391.21 153.97L391.22 153.97L391.34 153.88L391.46 153.79L391.57 153.70L391.58 153.69L391.69 153.60L391.81 153.51L391.92 153.43L391.93 153.42L392.05 153.33L392.17 153.24L392.28 153.16L392.29 153.15L392.41 153.06L392.53 152.98L392.64 152.90L392.65 152.90L392.77 152.82L392.89 152.74L393.00 152.68L393.01 152.67L393.13 152.60L393.25 152.54L393.35 152.48L393.37 152.47L393.49 152.42L393.60 152.37L393.71 152.32L393.72 152.32L393.84 152.27L393.96 152.22L394.07 152.18L394.08 152.18L394.20 152.13L394.32 152.09L394.43 152.05L394.44 152.04L394.56 152.00L394.68 151.95L394.79 151.92L394.80 151.91L394.92 151.87L395.04 151.83L395.14 151.80L395.16 151.79L395.28 151.75L395.39 151.72L395.50 151.69L395.51 151.68L395.63 151.65L395.75 151.61L395.86 151.59L395.87 151.58L395.99 151.55L396.11 151.52L396.22 151.50L396.23 151.49L396.35 151.47L396.47 151.44L396.57 151.42L396.59 151.42L396.71 151.40L396.83 151.38L396.93 151.36L396.95 151.36L397.07 151.34L397.18 151.33L397.29 151.32L397.30 151.31L397.42 151.30L397.54 151.29L397.65 151.28L397.66 151.28L397.78 151.26L397.90 151.25L398.00 151.24L398.02 151.24L398.14 151.23L398.26 151.22L398.36 151.21L398.38 151.20L398.50 151.19L398.62 151.18L398.72 151.17L398.74 151.17L398.86 151.16L398.98 151.15L399.08 151.14L399.09 151.14L399.21 151.13L399.33 151.12L399.44 151.12L399.45 151.12L399.57 151.11L399.69 151.10L399.79 151.10L399.81 151.09L399.93 151.09L400.05 151.08L400.15 151.08L400.17 151.08L400.29 151.07L400.41 151.07L400.51 151.06L400.53 151.06L400.65 151.06L400.77 151.06L400.87 151.06L400.88 151.06L401.00 151.06L401.12 151.05L401.22 151.05L401.24 151.05L401.36 151.06L401.48 151.06L401.58 151.06L401.60 151.06L401.72 151.06L401.84 151.06L401.94 151.06L401.96 151.06L402.08 151.07L402.20 151.07L402.30 151.07L402.32 151.07L402.44 151.08L402.56 151.08L402.66 151.08L402.67 151.09L402.79 151.09L402.91 151.09L403.01 151.10L403.03 151.10L403.15 151.10L403.27 151.11L403.37 151.12L403.39 151.12L403.51 151.12L403.63 151.13L403.73 151.13L403.75 151.13L403.87 151.14L403.99 151.15L404.09 151.15L404.11 151.15L404.23 151.16L404.35 151.17L404.44 151.17L404.47 151.17L404.58 151.18L404.70 151.19L404.80 151.19L404.82 151.19L404.94 151.20L405.06 151.21L405.16 151.21L405.18 151.21L405.30 151.22L405.42 151.23L405.52 151.23L405.54 151.23L405.66 151.24L405.78 151.24L405.88 151.25L405.90 151.25L406.02 151.26L406.14 151.26L406.23 151.27L406.26 151.27L406.37 151.27L406.49 151.28L406.59 151.28L406.61 151.28L406.73 151.29L406.85 151.29L406.95 151.30L406.97 151.30L407.09 151.30L407.21 151.30L407.31 151.31L407.33 151.31L407.45 151.31L407.57 151.31L407.66 151.32L407.69 151.32L407.81 151.32L407.93 151.32L408.02 151.32L408.05 151.32L408.16 151.32L408.28 151.32L408.38 151.32L408.40 151.32L408.52 151.32L408.64 151.32L408.74 151.32L408.76 151.32L408.88 151.32L409.00 151.32L409.10 151.32L409.12 151.32L409.24 151.32L409.36 151.32L409.45 151.32L409.48 151.32L409.60 151.32L409.72 151.32L409.81 151.32L409.84 151.32L409.96 151.32L410.07 151.32L410.17 151.32L410.19 151.32L410.31 151.32L410.43 151.32L410.53 151.32L410.55 151.32L410.67 151.32L410.79 151.32L410.88 151.32L410.91 151.32L411.03 151.32L411.15 151.32L411.24 151.32L411.27 151.32L411.39 151.32L411.51 151.32L411.60 151.32L411.63 151.32L411.75 151.32L411.86 151.32L411.96 151.32L411.98 151.32L412.10 151.32L412.22 151.32L412.31 151.32L412.34 151.32L412.46 151.32L412.58 151.32L412.67 151.32L412.70 151.32L412.82 151.32L412.94 151.32L413.03 151.32L413.06 151.32L413.18 151.32L413.30 151.32L413.39 151.32L413.42 151.32L413.54 151.32L413.65 151.32L413.75 151.32L413.77 151.32L413.89 151.32L414.01 151.32L414.10 151.32L414.13 151.32L414.25 151.32L414.37 151.32L414.46 151.32L414.49 151.32L414.61 151.32L414.73 151.32L414.82 151.32L414.85 151.32L414.97 151.32L415.09 151.32L415.18 151.32L415.21 151.32L415.33 151.32L415.44 151.32L415.53 151.32L415.89 151.32L416.25 151.32L416.61 151.32L416.97 151.32L417.32 151.32L417.68 151.32L418.04 151.32L418.40 151.32L418.75 151.32L419.11 151.32L419.47 151.32L419.83 151.32L420.19 151.32L420.54 151.32L420.90 151.32L421.26 151.32L421.62 151.32L421.97 151.32L422.33 151.32L422.69 151.32L423.05 151.32L423.40 151.32L423.76 151.32L424.12 151.32L424.48 151.32L424.84 151.32L425.19 151.32L425.55 151.32L425.91 151.32L426.27 151.32L426.62 151.32L426.98 151.32L427.34 151.32L427.70 151.32L428.06 151.32L428.41 151.32L428.77 151.32L429.13 151.32L429.49 151.32L429.84 151.32L430.20 151.32L430.56 151.32L430.92 151.32L431.28 151.32L431.63 151.32L431.99 151.32L432.35 151.32L432.71 151.32L433.06 151.32L433.42 151.32L433.78 151.32L434.14 151.32L434.49 151.32L434.85 151.32L435.21 151.32L435.57 151.32L435.93 151.32L436.28 151.32L436.64 151.32L437.00 151.32L437.36 151.32L437.71 151.32L438.07 151.32L438.43 151.32L438.79 151.32L439.15 151.32L439.50 151.32L439.86 151.32L440.22 151.32L440.58 151.32L440.93 151.32L441.29 151.32L441.65 151.32L442.01 151.32L442.37 151.32L442.72 151.32L443.08 151.32L443.44 151.32L443.80 151.32L444.15 151.32L444.51 151.32L444.87 151.32L445.23 151.32L445.58 151.32L445.94 151.32L446.30 151.32L446.66 151.32L447.02 151.32L447.37 151.32L447.73 151.32L448.09 151.32L448.45 151.32L448.80 151.32L449.16 151.32L449.52 151.32L449.88 151.32L450.24 151.32L450.59 151.32L450.95 151.32L451.31 151.32L451.67 151.32L452.02 151.32L452.38 151.32L452.74 151.32L453.10 151.32L453.46 151.32L453.81 151.32L454.17 151.32L454.53 151.32L454.89 151.32L455.24 151.32L455.60 151.32L455.96 151.32L456.32 151.32L456.68 151.32L457.03 151.32L457.39 151.32L457.75 151.32L458.11 151.32L458.46 151.32L458.82 151.32L459.18 151.32L459.54 151.32L459.89 151.32L460.25 151.32L460.61 151.32L460.97 151.32L461.33 151.32L461.68 151.32L462.04 151.32L462.40 151.32L462.76 151.32L463.11 151.32L463.47 151.32L463.83 151.32L464.19 151.32L464.55 151.32L464.90 151.32L465.26 151.32L465.62 151.32L465.98 151.32L466.33 151.32L466.69 151.32L467.05 151.32L467.41 151.32L467.77 151.32L468.12 151.32L468.48 151.32L468.84 151.32L469.20 151.32L469.55 151.32L469.91 151.32L470.27 151.32L470.63 151.32L470.98 151.32L471.34 151.32L471.70 151.32L472.06 151.32L472.42 151.32L472.77 151.32L473.13 151.32L473.49 151.32L473.85 151.32L474.20 151.32L474.56 151.32L474.92 151.32L475.28 151.32L475.64 151.32L475.99 151.32L476.35 151.32L476.71 151.32L477.07 151.32L477.42 151.32L477.78 151.32L478.14 151.32L478.50 151.32L478.86 151.32L479.21 151.32L479.57 151.32L479.93 151.32L480.29 151.32L480.64 151.32L481.00 151.32L481.36 151.32L481.72 151.32L482.07 151.32L482.43 151.32L482.79 151.32L483.15 151.32L483.51 151.32L483.86 151.32L484.22 151.32L484.58 151.32L484.94 151.32L485.29 151.32L485.65 151.32L486.01 151.32L486.37 151.32L486.73 151.32L487.08 151.32L487.44 151.32L487.80 151.32L488.16 151.32L488.51 151.32L488.87 151.32L489.23 151.32L489.59 151.32L489.95 151.32L490.30 151.32L490.66 151.32L491.02 151.32L491.38 151.32L491.73 151.32L492.09 151.32L492.45 151.32L492.81 151.32L493.16 151.32L493.52 151.32L493.88 151.32L494.24 151.32L494.60 151.32L494.95 151.32L495.31 151.32L495.67 151.32L496.03 151.32L496.38 151.32L496.74 151.32L497.10 151.32L497.46 151.32L497.82 151.32L498.17 151.32L498.53 151.32L498.89 151.32L499.25 151.32L499.60 151.32L499.96 151.32L500.32 151.32L500.68 151.32L501.04 151.32L501.39 151.32L501.75 151.32L502.11 151.32L502.47 151.32L502.82 151.32L503.18 151.32L503.54 151.32L503.90 151.32L504.26 151.32L504.61 151.32L504.97 151.32L505.33 151.32L505.69 151.32L506.04 151.32L506.40 151.32L506.76 151.32L507.12 151.32L507.47 151.32L507.83 151.32L508.19 151.32L508.55 151.32L508.91 151.32L509.26 151.32L509.62 151.32L509.98 151.32L510.34 151.32L510.69 151.32L511.05 151.32L511.41 151.32L511.77 151.32L512.13 151.32L512.48 151.32L512.84 151.32L513.20 151.32L513.56 151.32L513.91 151.32L514.27 151.32L514.63 151.32L514.99 151.32L515.35 151.32L515.70 151.32L516.06 151.32L516.42 151.32L516.78 151.32L517.13 151.32L517.49 151.32L517.85 151.32L518.21 151.32L518.56 151.32L518.92 151.32L519.28 151.32L519.64 151.32L520.00 151.32L520.35 151.32L520.71 151.32L521.07 151.32L521.43 151.32L521.78 151.32L522.14 151.32L522.50 151.32" fill="none" stroke="#ed1c24" stroke-width="1.9" stroke-linejoin="round"/>
<path d="M285.00 218.00V191.93H379.76V218.00H522.50" fill="none" stroke="#000" stroke-width="1.9" stroke-linejoin="miter"/>
<rect x="284.6" y="31.3" width="237.90" height="186.70" fill="none" stroke="#231f20" stroke-width="1"/>
<path d="M284.6 218.00h2.2M522.5 218.00h-2.2M284.6 191.33h2.2M522.5 191.33h-2.2M284.6 164.66h2.2M522.5 164.66h-2.2M284.6 137.99h2.2M522.5 137.99h-2.2M284.6 111.31h2.2M522.5 111.31h-2.2M284.6 84.64h2.2M522.5 84.64h-2.2M284.6 57.97h2.2M522.5 57.97h-2.2M284.6 31.30h2.2M522.5 31.30h-2.2M284.60 218.0v-2.2M284.60 31.3v2.2M344.08 218.0v-2.2M344.08 31.3v2.2M403.55 218.0v-2.2M403.55 31.3v2.2M463.02 218.0v-2.2M463.02 31.3v2.2M522.50 218.0v-2.2M522.50 31.3v2.2" stroke="#231f20" stroke-width="0.8" fill="none"/>
<text x="274.20" y="222.80" font-size="13.8" font-family="Liberation Sans" fill="#231f20" textLength="6.70" lengthAdjust="spacingAndGlyphs" >0</text>
<text x="274.20" y="196.13" font-size="13.8" font-family="Liberation Sans" fill="#231f20" textLength="6.70" lengthAdjust="spacingAndGlyphs" >2</text>
<text x="274.20" y="169.46" font-size="13.8" font-family="Liberation Sans" fill="#231f20" textLength="6.70" lengthAdjust="spacingAndGlyphs" >4</text>
<text x="274.20" y="142.79" font-size="13.8" font-family="Liberation Sans" fill="#231f20" textLength="6.70" lengthAdjust="spacingAndGlyphs" >6</text>
<text x="274.20" y="116.11" font-size="13.8" font-family="Liberation Sans" fill="#231f20" textLength="6.70" lengthAdjust="spacingAndGlyphs" >8</text>
<text x="267.30" y="89.44" font-size="13.8" font-family="Liberation Sans" fill="#231f20" textLength="13.60" lengthAdjust="spacingAndGlyphs" >10</text>
<text x="267.30" y="62.77" font-size="13.8" font-family="Liberation Sans" fill="#231f20" textLength="13.60" lengthAdjust="spacingAndGlyphs" >12</text>
<text x="267.30" y="36.10" font-size="13.8" font-family="Liberation Sans" fill="#231f20" textLength="13.60" lengthAdjust="spacingAndGlyphs" >14</text>
<text x="281.50" y="233.80" font-size="13.8" font-family="Liberation Sans" fill="#231f20" textLength="7.60" lengthAdjust="spacingAndGlyphs" >0</text>
<text x="330.80" y="233.80" font-size="13.8" font-family="Liberation Sans" fill="#231f20" textLength="30.40" lengthAdjust="spacingAndGlyphs" >5000</text>
<text x="387.70" y="233.80" font-size="13.8" font-family="Liberation Sans" fill="#231f20" textLength="36.70" lengthAdjust="spacingAndGlyphs" >10000</text>
<text x="442.30" y="233.80" font-size="13.8" font-family="Liberation Sans" fill="#231f20" textLength="36.50" lengthAdjust="spacingAndGlyphs" >15000</text>
<text x="505.10" y="233.80" font-size="13.8" font-family="Liberation Sans" fill="#231f20" textLength="38.30" lengthAdjust="spacingAndGlyphs" >20000</text>
<text x="341.50" y="248.70" font-size="13.5" font-family="Liberation Sans" fill="#231f20" textLength="143.70" lengthAdjust="spacingAndGlyphs" >time [integration steps]</text>
<text x="264.30" y="143.90" font-size="13.5" font-family="Liberation Sans" fill="#231f20" textLength="45.60" lengthAdjust="spacingAndGlyphs" transform="rotate(-90 264.30 143.90)" >activity</text>
<line x1="389.2" y1="46.1" x2="410.5" y2="46.1" stroke="#344ea0" stroke-width="1.9"/>
<line x1="389.2" y1="63.2" x2="410.5" y2="63.2" stroke="#ed1c24" stroke-width="1.9"/>
<line x1="389.2" y1="80.9" x2="410.5" y2="80.9" stroke="#000" stroke-width="1.9"/>
<text x="417.60" y="50.60" font-size="13.8" font-family="Liberation Sans" fill="#231f20" textLength="76.80" lengthAdjust="spacingAndGlyphs" >Activity on x</text>
<text x="417.60" y="67.90" font-size="13.8" font-family="Liberation Sans" fill="#231f20" textLength="76.80" lengthAdjust="spacingAndGlyphs" >Activity on y</text>
<text x="417.50" y="84.80" font-size="13.8" font-family="Liberation Sans" fill="#231f20" textLength="59.60" lengthAdjust="spacingAndGlyphs" >Input to x</text>
<text x="421.00" y="167.40" font-size="15" font-family="Liberation Serif" fill="#231f20" textLength="9.00" lengthAdjust="spacingAndGlyphs" >α</text>
<text x="430.20" y="167.40" font-size="13.6" font-family="Liberation Sans" fill="#231f20" textLength="26.90" lengthAdjust="spacingAndGlyphs" >=1.3</text>
<text x="466.00" y="167.40" font-size="15" font-family="Liberation Serif" fill="#231f20" textLength="7.20" lengthAdjust="spacingAndGlyphs" >β</text>
<text x="473.20" y="171.30" font-size="13.6" font-family="Liberation Sans" fill="#231f20" textLength="7.00" lengthAdjust="spacingAndGlyphs" >2</text>
<text x="480.60" y="167.40" font-size="13.6" font-family="Liberation Sans" fill="#231f20" textLength="26.70" lengthAdjust="spacingAndGlyphs" >=0.2</text>
<text x="421.00" y="185.20" font-size="15" font-family="Liberation Serif" fill="#231f20" textLength="7.20" lengthAdjust="spacingAndGlyphs" >β</text>
<text x="427.40" y="190.10" font-size="13.6" font-family="Liberation Sans" fill="#231f20" textLength="6.50" lengthAdjust="spacingAndGlyphs" >1</text>
<text x="433.40" y="185.20" font-size="13.6" font-family="Liberation Sans" fill="#231f20" textLength="16.20" lengthAdjust="spacingAndGlyphs" >=3</text>
<text x="467.50" y="185.20" font-size="13.6" font-family="Liberation Sans" fill="#231f20" textLength="33.80" lengthAdjust="spacingAndGlyphs" >T=0.5</text>
<text x="539.50" y="14.50" font-size="14" font-family="Liberation Sans" fill="#231f20" textLength="13.80" lengthAdjust="spacingAndGlyphs" >C)</text>
<path d="M573.6 29.4V219.6H815.1" fill="none" stroke="#58595b" stroke-width="0.9"/>
<path d="M573.6 205.50h2.2M573.6 178.46h2.2M573.6 151.42h2.2M573.6 124.38h2.2M573.6 97.34h2.2M573.6 70.30h2.2M573.6 43.26h2.2M573.50 219.6v-2.2M621.82 219.6v-2.2M670.14 219.6v-2.2M718.46 219.6v-2.2M766.78 219.6v-2.2M815.10 219.6v-2.2" stroke="#58595b" stroke-width="0.8" fill="none"/>
<text x="560.90" y="209.80" font-size="13.8" font-family="Liberation Sans" fill="#231f20" textLength="6.60" lengthAdjust="spacingAndGlyphs" >0</text>
<text x="560.90" y="182.36" font-size="13.8" font-family="Liberation Sans" fill="#231f20" textLength="6.60" lengthAdjust="spacingAndGlyphs" >2</text>
<text x="560.90" y="154.92" font-size="13.8" font-family="Liberation Sans" fill="#231f20" textLength="6.60" lengthAdjust="spacingAndGlyphs" >4</text>
<text x="560.90" y="127.48" font-size="13.8" font-family="Liberation Sans" fill="#231f20" textLength="6.60" lengthAdjust="spacingAndGlyphs" >6</text>
<text x="560.90" y="100.04" font-size="13.8" font-family="Liberation Sans" fill="#231f20" textLength="6.60" lengthAdjust="spacingAndGlyphs" >8</text>
<text x="557.20" y="72.60" font-size="13.8" font-family="Liberation Sans" fill="#231f20" textLength="14.00" lengthAdjust="spacingAndGlyphs" >10</text>
<text x="557.20" y="45.16" font-size="13.8" font-family="Liberation Sans" fill="#231f20" textLength="14.00" lengthAdjust="spacingAndGlyphs" >12</text>
<text x="572.30" y="233.70" font-size="13.8" font-family="Liberation Sans" fill="#231f20" textLength="7.40" lengthAdjust="spacingAndGlyphs" >0</text>
<text x="620.00" y="233.70" font-size="13.8" font-family="Liberation Sans" fill="#231f20" textLength="6.90" lengthAdjust="spacingAndGlyphs" >5</text>
<text x="667.30" y="233.70" font-size="13.8" font-family="Liberation Sans" fill="#231f20" textLength="14.80" lengthAdjust="spacingAndGlyphs" >10</text>
<text x="716.60" y="233.70" font-size="13.8" font-family="Liberation Sans" fill="#231f20" textLength="14.30" lengthAdjust="spacingAndGlyphs" >15</text>
<text x="764.60" y="233.70" font-size="13.8" font-family="Liberation Sans" fill="#231f20" textLength="14.30" lengthAdjust="spacingAndGlyphs" >20</text>
<text x="812.70" y="233.70" font-size="13.8" font-family="Liberation Sans" fill="#231f20" textLength="13.50" lengthAdjust="spacingAndGlyphs" >25</text>
<text x="631.20" y="248.80" font-size="13.5" font-family="Liberation Sans" fill="#231f20" textLength="122.00" lengthAdjust="spacingAndGlyphs" >output unit on map</text>
<text x="760.00" y="248.80" font-size="13.5" font-family="Liberation Sans" fill="#231f20" textLength="7.00" lengthAdjust="spacingAndGlyphs" >x</text>
<text x="552.40" y="180.90" font-size="13.5" font-family="Liberation Sans" fill="#231f20" textLength="121.80" lengthAdjust="spacingAndGlyphs" transform="rotate(-90 552.40 180.90)" >output unit on map</text>
<text x="552.40" y="54.00" font-size="13.5" font-family="Liberation Sans" fill="#231f20" textLength="6.90" lengthAdjust="spacingAndGlyphs" transform="rotate(-90 552.40 54.00)" >y</text>
<path d="M576.40 205.70L577.05 205.70L577.81 205.70L578.68 205.70L579.64 205.70L580.68 205.70L581.80 205.70L582.98 205.70L584.22 205.70L585.50 205.70L586.82 205.70L588.17 205.70L589.54 205.70L590.92 205.70L592.29 205.70L593.66 205.70L595.00 205.70L596.32 205.70L597.60 205.70L598.83 205.70L600.00 205.70L601.15 205.70L602.32 205.70L603.51 205.71L604.71 205.71L605.92 205.72L607.13 205.72L608.34 205.73L609.54 205.73L610.73 205.74L611.91 205.74L613.07 205.75L614.21 205.75L615.32 205.75L616.41 205.75L617.45 205.75L618.46 205.74L619.42 205.74L620.33 205.73L621.20 205.72L622.00 205.70L622.75 205.68L623.44 205.66L624.08 205.64L624.68 205.62L625.23 205.60L625.75 205.58L626.23 205.55L626.68 205.52L627.10 205.49L627.50 205.46L627.88 205.43L628.24 205.39L628.59 205.35L628.93 205.31L629.27 205.27L629.60 205.22L629.94 205.17L630.28 205.12L630.63 205.06L631.00 205.00L631.37 204.94L631.73 204.87L632.09 204.80L632.43 204.73L632.77 204.66L633.10 204.58L633.42 204.51L633.74 204.43L634.04 204.34L634.34 204.26L634.64 204.17L634.92 204.07L635.20 203.98L635.48 203.88L635.75 203.77L636.01 203.67L636.26 203.56L636.51 203.44L636.76 203.32L637.00 203.20L637.23 203.07L637.46 202.94L637.67 202.81L637.88 202.68L638.08 202.54L638.27 202.40L638.46 202.26L638.64 202.11L638.81 201.96L638.98 201.80L639.15 201.64L639.31 201.48L639.46 201.31L639.62 201.14L639.77 200.96L639.92 200.78L640.06 200.59L640.21 200.40L640.36 200.20L640.50 200.00L640.64 199.79L640.78 199.58L640.92 199.36L641.06 199.13L641.19 198.90L641.32 198.66L641.45 198.42L641.57 198.18L641.69 197.93L641.81 197.68L641.92 197.42L642.03 197.16L642.14 196.90L642.24 196.63L642.34 196.36L642.44 196.09L642.54 195.82L642.63 195.55L642.72 195.27L642.80 195.00L642.88 194.74L642.95 194.49L643.02 194.27L643.09 194.06L643.15 193.85L643.21 193.65L643.26 193.45L643.31 193.25L643.36 193.04L643.41 192.81L643.45 192.57L643.49 192.31L643.53 192.03L643.57 191.71L643.61 191.37L643.65 190.98L643.68 190.56L643.72 190.09L643.76 189.57L643.80 189.00L643.84 188.37L643.87 187.68L643.90 186.93L643.93 186.14L643.95 185.30L643.98 184.42L644.00 183.51L644.02 182.57L644.04 181.61L644.06 180.62L644.08 179.63L644.11 178.63L644.13 177.63L644.16 176.63L644.19 175.64L644.22 174.66L644.26 173.71L644.30 172.77L644.35 171.87L644.40 171.00L644.46 170.15L644.51 169.31L644.57 168.48L644.64 167.66L644.70 166.84L644.77 166.02L644.84 165.21L644.91 164.41L644.99 163.61L645.06 162.81L645.14 162.02L645.23 161.23L645.31 160.45L645.40 159.66L645.49 158.88L645.59 158.10L645.69 157.33L645.79 156.55L645.89 155.78L646.00 155.00L646.11 154.22L646.23 153.44L646.36 152.65L646.48 151.86L646.62 151.06L646.75 150.27L646.90 149.48L647.04 148.69L647.18 147.90L647.33 147.12L647.48 146.35L647.63 145.59L647.78 144.84L647.93 144.10L648.08 143.38L648.23 142.66L648.37 141.97L648.52 141.29L648.66 140.64L648.80 140.00L648.94 139.38L649.07 138.78L649.21 138.19L649.35 137.62L649.49 137.05L649.62 136.51L649.76 135.97L649.90 135.45L650.03 134.94L650.17 134.44L650.30 133.95L650.44 133.47L650.57 133.01L650.71 132.55L650.84 132.10L650.97 131.66L651.11 131.24L651.24 130.82L651.37 130.40L651.50 130.00L651.63 129.61L651.76 129.23L651.88 128.87L652.00 128.52L652.13 128.18L652.25 127.86L652.37 127.54L652.49 127.24L652.61 126.94L652.73 126.65L652.85 126.37L652.97 126.09L653.10 125.82L653.22 125.56L653.34 125.29L653.47 125.03L653.60 124.78L653.73 124.52L653.86 124.26L654.00 124.00L654.14 123.74L654.29 123.48L654.45 123.21L654.62 122.95L654.79 122.68L654.96 122.42L655.13 122.17L655.31 121.91L655.48 121.67L655.66 121.42L655.83 121.19L655.99 120.97L656.15 120.75L656.30 120.55L656.45 120.35L656.58 120.17L656.71 120.01L656.82 119.85L656.92 119.72L657.00 119.60" fill="none" stroke="#ed1c24" stroke-width="1.2" stroke-linecap="round" stroke-linejoin="round"/>
<path d="M576.40 205.70L577.05 205.70L577.81 205.70L578.68 205.70L579.64 205.70L580.68 205.70L581.80 205.70L582.98 205.70L584.22 205.70L585.50 205.70L586.82 205.70L588.17 205.70L589.54 205.70L590.92 205.70L592.29 205.70L593.66 205.70L595.00 205.70L596.32 205.70L597.60 205.70L598.83 205.70L600.00 205.70L601.15 205.70L602.32 205.70L603.51 205.71L604.71 205.71L605.92 205.72L607.13 205.72L608.34 205.73L609.54 205.73L610.73 205.74L611.91 205.74L613.07 205.75L614.21 205.75L615.32 205.75L616.41 205.75L617.45 205.75L618.46 205.74L619.42 205.74L620.33 205.73L621.20 205.72L622.00 205.70L622.75 205.68L623.44 205.66L624.08 205.64L624.68 205.62L625.23 205.60L625.75 205.58L626.23 205.55L626.68 205.52L627.10 205.49L627.50 205.46L627.88 205.43L628.24 205.39L628.59 205.35L628.93 205.31L629.27 205.27L629.60 205.22L629.94 205.17L630.28 205.12L630.63 205.06L631.00 205.00L631.37 204.94L631.73 204.87L632.09 204.80L632.43 204.73L632.77 204.66L633.10 204.58L633.42 204.51L633.74 204.43L634.04 204.34L634.34 204.26L634.64 204.17L634.92 204.07L635.20 203.98L635.48 203.88L635.75 203.77L636.01 203.67L636.26 203.56L636.51 203.44L636.76 203.32L637.00 203.20L637.23 203.07L637.46 202.94L637.67 202.81L637.88 202.68L638.08 202.54L638.27 202.40L638.46 202.26L638.64 202.11L638.81 201.96L638.98 201.80L639.15 201.64L639.31 201.48L639.46 201.31L639.62 201.14L639.77 200.96L639.92 200.78L640.06 200.59L640.21 200.40L640.36 200.20L640.50 200.00L640.64 199.79L640.78 199.58L640.92 199.36L641.06 199.13L641.19 198.90L641.32 198.66L641.45 198.42L641.57 198.18L641.69 197.93L641.81 197.68L641.92 197.42L642.03 197.16L642.14 196.90L642.24 196.63L642.34 196.36L642.44 196.09L642.54 195.82L642.63 195.55L642.72 195.27L642.80 195.00L642.88 194.74L642.95 194.49L643.02 194.27L643.09 194.06L643.15 193.85L643.21 193.65L643.26 193.45L643.31 193.25L643.36 193.04L643.41 192.81L643.45 192.57L643.49 192.31L643.53 192.03L643.57 191.71L643.61 191.37L643.65 190.98L643.68 190.56L643.72 190.09L643.76 189.57L643.80 189.00L643.84 188.37L643.87 187.68L643.90 186.93L643.93 186.14L643.95 185.30L643.98 184.42L644.00 183.51L644.02 182.57L644.04 181.61L644.06 180.62L644.08 179.63L644.11 178.63L644.13 177.63L644.16 176.63L644.19 175.64L644.22 174.66L644.26 173.71L644.30 172.77L644.35 171.87L644.40 171.00L644.46 170.15L644.51 169.31L644.57 168.48L644.64 167.66L644.70 166.84L644.77 166.02L644.84 165.21L644.91 164.41L644.99 163.61L645.06 162.81L645.14 162.02L645.23 161.23L645.31 160.45L645.40 159.66L645.49 158.88L645.59 158.10L645.69 157.33L645.79 156.55L645.89 155.78L646.00 155.00L646.11 154.22L646.23 153.44L646.36 152.65L646.48 151.86L646.62 151.06L646.75 150.27L646.90 149.48L647.04 148.69L647.18 147.90L647.33 147.12L647.48 146.35L647.63 145.59L647.78 144.84L647.93 144.10L648.08 143.38L648.23 142.66L648.37 141.97L648.52 141.29L648.66 140.64L648.80 140.00L648.94 139.38L649.07 138.78L649.21 138.19L649.35 137.62L649.49 137.05L649.62 136.51L649.76 135.97L649.90 135.45L650.03 134.94L650.17 134.44L650.30 133.95L650.44 133.47L650.57 133.01L650.71 132.55L650.84 132.10L650.97 131.66L651.11 131.24L651.24 130.82L651.37 130.40L651.50 130.00L651.63 129.61L651.76 129.23L651.88 128.87L652.00 128.52L652.13 128.18L652.25 127.86L652.37 127.54L652.49 127.24L652.61 126.94L652.73 126.65L652.85 126.37L652.97 126.09L653.10 125.82L653.22 125.56L653.34 125.29L653.47 125.03L653.60 124.78L653.73 124.52L653.86 124.26L654.00 124.00L654.14 123.74L654.29 123.48L654.45 123.21L654.62 122.95L654.79 122.68L654.96 122.42L655.13 122.17L655.31 121.91L655.48 121.67L655.66 121.42L655.83 121.19L655.99 120.97L656.15 120.75L656.30 120.55L656.45 120.35L656.58 120.17L656.71 120.01L656.82 119.85L656.92 119.72L657.00 119.60" fill="none" stroke="#ed1c24" stroke-width="1.9" stroke-linecap="round" stroke-dasharray="0.01 2.6"/>
<path d="M576.40 205.70L577.04 205.71L577.78 205.71L578.60 205.72L579.51 205.73L580.49 205.74L581.54 205.75L582.66 205.76L583.83 205.78L585.06 205.79L586.32 205.80L587.63 205.81L588.97 205.82L590.33 205.84L591.71 205.85L593.10 205.86L594.49 205.87L595.89 205.88L597.27 205.89L598.65 205.89L600.00 205.90L601.38 205.91L602.82 205.91L604.33 205.92L605.88 205.93L607.47 205.94L609.10 205.94L610.74 205.95L612.40 205.96L614.07 205.96L615.73 205.97L617.37 205.97L618.99 205.97L620.58 205.97L622.12 205.97L623.62 205.97L625.05 205.96L626.41 205.95L627.70 205.94L628.90 205.92L630.00 205.90L631.01 205.88L631.94 205.85L632.79 205.82L633.58 205.79L634.31 205.76L634.99 205.72L635.61 205.69L636.19 205.65L636.74 205.61L637.25 205.56L637.74 205.52L638.21 205.47L638.66 205.42L639.11 205.36L639.56 205.31L640.02 205.25L640.48 205.19L640.96 205.13L641.47 205.07L642.00 205.00L642.55 204.93L643.09 204.86L643.62 204.79L644.15 204.72L644.68 204.65L645.19 204.58L645.71 204.50L646.22 204.42L646.72 204.34L647.22 204.26L647.71 204.17L648.20 204.08L648.69 203.98L649.17 203.89L649.65 203.78L650.13 203.68L650.60 203.57L651.07 203.45L651.54 203.33L652.00 203.20L652.46 203.07L652.92 202.93L653.38 202.79L653.83 202.64L654.28 202.49L654.72 202.33L655.17 202.17L655.60 202.01L656.04 201.84L656.47 201.67L656.89 201.49L657.32 201.32L657.73 201.14L658.14 200.95L658.55 200.76L658.95 200.58L659.35 200.38L659.74 200.19L660.12 200.00L660.50 199.80L660.87 199.60L661.24 199.40L661.60 199.21L661.95 199.01L662.30 198.81L662.64 198.60L662.98 198.40L663.32 198.19L663.64 197.98L663.97 197.76L664.29 197.54L664.60 197.32L664.92 197.09L665.22 196.85L665.53 196.61L665.83 196.36L666.13 196.11L666.42 195.85L666.71 195.58L667.00 195.30L667.28 195.01L667.56 194.72L667.84 194.42L668.11 194.11L668.37 193.80L668.63 193.48L668.89 193.16L669.14 192.83L669.39 192.49L669.64 192.15L669.88 191.80L670.12 191.45L670.36 191.10L670.60 190.74L670.83 190.37L671.07 190.01L671.30 189.63L671.54 189.26L671.77 188.88L672.00 188.50L672.23 188.11L672.46 187.72L672.70 187.33L672.93 186.92L673.15 186.52L673.38 186.11L673.61 185.69L673.83 185.27L674.06 184.85L674.27 184.42L674.49 183.99L674.71 183.55L674.92 183.12L675.13 182.68L675.33 182.24L675.53 181.79L675.73 181.35L675.93 180.90L676.12 180.45L676.30 180.00L676.48 179.55L676.65 179.12L676.82 178.69L676.99 178.26L677.15 177.84L677.30 177.41L677.46 176.99L677.61 176.56L677.76 176.13L677.90 175.69L678.04 175.24L678.18 174.78L678.32 174.31L678.46 173.82L678.60 173.32L678.74 172.80L678.88 172.26L679.02 171.70L679.16 171.11L679.30 170.50L679.44 169.86L679.58 169.19L679.72 168.50L679.85 167.78L679.99 167.04L680.12 166.28L680.26 165.50L680.39 164.71L680.52 163.91L680.65 163.09L680.78 162.28L680.91 161.45L681.04 160.63L681.18 159.80L681.31 158.98L681.45 158.16L681.58 157.36L681.72 156.56L681.86 155.77L682.00 155.00L682.14 154.24L682.29 153.50L682.43 152.77L682.57 152.05L682.72 151.33L682.86 150.62L683.01 149.91L683.15 149.20L683.30 148.49L683.45 147.78L683.60 147.06L683.75 146.34L683.90 145.60L684.05 144.85L684.21 144.09L684.36 143.31L684.52 142.52L684.68 141.70L684.84 140.86L685.00 140.00L685.16 139.10L685.33 138.16L685.51 137.18L685.68 136.16L685.86 135.12L686.04 134.05L686.23 132.97L686.41 131.88L686.60 130.78L686.78 129.69L686.97 128.60L687.15 127.52L687.33 126.46L687.51 125.42L687.68 124.41L687.86 123.44L688.02 122.51L688.19 121.62L688.35 120.78L688.50 120.00L688.65 119.27L688.79 118.59L688.92 117.94L689.05 117.33L689.18 116.75L689.30 116.21L689.42 115.69L689.53 115.19L689.65 114.72L689.76 114.26L689.88 113.82L689.99 113.39L690.11 112.97L690.22 112.55L690.34 112.14L690.46 111.72L690.59 111.31L690.72 110.88L690.86 110.45L691.00 110.00L691.15 109.54L691.31 109.07L691.48 108.59L691.66 108.11L691.85 107.63L692.04 107.15L692.23 106.67L692.42 106.20L692.61 105.73L692.81 105.27L693.00 104.83L693.18 104.40L693.36 103.99L693.53 103.60L693.69 103.23L693.84 102.89L693.98 102.57L694.10 102.28L694.21 102.02L694.30 101.80" fill="none" stroke="#ed1c24" stroke-width="1.2" stroke-linecap="round" stroke-linejoin="round"/>
<path d="M576.40 205.70L577.04 205.71L577.78 205.71L578.60 205.72L579.51 205.73L580.49 205.74L581.54 205.75L582.66 205.76L583.83 205.78L585.06 205.79L586.32 205.80L587.63 205.81L588.97 205.82L590.33 205.84L591.71 205.85L593.10 205.86L594.49 205.87L595.89 205.88L597.27 205.89L598.65 205.89L600.00 205.90L601.38 205.91L602.82 205.91L604.33 205.92L605.88 205.93L607.47 205.94L609.10 205.94L610.74 205.95L612.40 205.96L614.07 205.96L615.73 205.97L617.37 205.97L618.99 205.97L620.58 205.97L622.12 205.97L623.62 205.97L625.05 205.96L626.41 205.95L627.70 205.94L628.90 205.92L630.00 205.90L631.01 205.88L631.94 205.85L632.79 205.82L633.58 205.79L634.31 205.76L634.99 205.72L635.61 205.69L636.19 205.65L636.74 205.61L637.25 205.56L637.74 205.52L638.21 205.47L638.66 205.42L639.11 205.36L639.56 205.31L640.02 205.25L640.48 205.19L640.96 205.13L641.47 205.07L642.00 205.00L642.55 204.93L643.09 204.86L643.62 204.79L644.15 204.72L644.68 204.65L645.19 204.58L645.71 204.50L646.22 204.42L646.72 204.34L647.22 204.26L647.71 204.17L648.20 204.08L648.69 203.98L649.17 203.89L649.65 203.78L650.13 203.68L650.60 203.57L651.07 203.45L651.54 203.33L652.00 203.20L652.46 203.07L652.92 202.93L653.38 202.79L653.83 202.64L654.28 202.49L654.72 202.33L655.17 202.17L655.60 202.01L656.04 201.84L656.47 201.67L656.89 201.49L657.32 201.32L657.73 201.14L658.14 200.95L658.55 200.76L658.95 200.58L659.35 200.38L659.74 200.19L660.12 200.00L660.50 199.80L660.87 199.60L661.24 199.40L661.60 199.21L661.95 199.01L662.30 198.81L662.64 198.60L662.98 198.40L663.32 198.19L663.64 197.98L663.97 197.76L664.29 197.54L664.60 197.32L664.92 197.09L665.22 196.85L665.53 196.61L665.83 196.36L666.13 196.11L666.42 195.85L666.71 195.58L667.00 195.30L667.28 195.01L667.56 194.72L667.84 194.42L668.11 194.11L668.37 193.80L668.63 193.48L668.89 193.16L669.14 192.83L669.39 192.49L669.64 192.15L669.88 191.80L670.12 191.45L670.36 191.10L670.60 190.74L670.83 190.37L671.07 190.01L671.30 189.63L671.54 189.26L671.77 188.88L672.00 188.50L672.23 188.11L672.46 187.72L672.70 187.33L672.93 186.92L673.15 186.52L673.38 186.11L673.61 185.69L673.83 185.27L674.06 184.85L674.27 184.42L674.49 183.99L674.71 183.55L674.92 183.12L675.13 182.68L675.33 182.24L675.53 181.79L675.73 181.35L675.93 180.90L676.12 180.45L676.30 180.00L676.48 179.55L676.65 179.12L676.82 178.69L676.99 178.26L677.15 177.84L677.30 177.41L677.46 176.99L677.61 176.56L677.76 176.13L677.90 175.69L678.04 175.24L678.18 174.78L678.32 174.31L678.46 173.82L678.60 173.32L678.74 172.80L678.88 172.26L679.02 171.70L679.16 171.11L679.30 170.50L679.44 169.86L679.58 169.19L679.72 168.50L679.85 167.78L679.99 167.04L680.12 166.28L680.26 165.50L680.39 164.71L680.52 163.91L680.65 163.09L680.78 162.28L680.91 161.45L681.04 160.63L681.18 159.80L681.31 158.98L681.45 158.16L681.58 157.36L681.72 156.56L681.86 155.77L682.00 155.00L682.14 154.24L682.29 153.50L682.43 152.77L682.57 152.05L682.72 151.33L682.86 150.62L683.01 149.91L683.15 149.20L683.30 148.49L683.45 147.78L683.60 147.06L683.75 146.34L683.90 145.60L684.05 144.85L684.21 144.09L684.36 143.31L684.52 142.52L684.68 141.70L684.84 140.86L685.00 140.00L685.16 139.10L685.33 138.16L685.51 137.18L685.68 136.16L685.86 135.12L686.04 134.05L686.23 132.97L686.41 131.88L686.60 130.78L686.78 129.69L686.97 128.60L687.15 127.52L687.33 126.46L687.51 125.42L687.68 124.41L687.86 123.44L688.02 122.51L688.19 121.62L688.35 120.78L688.50 120.00L688.65 119.27L688.79 118.59L688.92 117.94L689.05 117.33L689.18 116.75L689.30 116.21L689.42 115.69L689.53 115.19L689.65 114.72L689.76 114.26L689.88 113.82L689.99 113.39L690.11 112.97L690.22 112.55L690.34 112.14L690.46 111.72L690.59 111.31L690.72 110.88L690.86 110.45L691.00 110.00L691.15 109.54L691.31 109.07L691.48 108.59L691.66 108.11L691.85 107.63L692.04 107.15L692.23 106.67L692.42 106.20L692.61 105.73L692.81 105.27L693.00 104.83L693.18 104.40L693.36 103.99L693.53 103.60L693.69 103.23L693.84 102.89L693.98 102.57L694.10 102.28L694.21 102.02L694.30 101.80" fill="none" stroke="#ed1c24" stroke-width="1.9" stroke-linecap="round" stroke-dasharray="0.01 2.6"/>
<path d="M576.40 205.70L577.04 205.71L577.78 205.73L578.60 205.74L579.51 205.76L580.49 205.78L581.54 205.80L582.66 205.83L583.83 205.85L585.06 205.88L586.32 205.90L587.63 205.92L588.97 205.95L590.33 205.97L591.71 206.00L593.10 206.02L594.49 206.04L595.89 206.06L597.27 206.07L598.65 206.09L600.00 206.10L601.37 206.11L602.79 206.12L604.27 206.13L605.78 206.14L607.33 206.15L608.91 206.16L610.50 206.17L612.12 206.18L613.73 206.19L615.35 206.19L616.96 206.20L618.56 206.20L620.13 206.20L621.68 206.19L623.19 206.19L624.67 206.18L626.09 206.16L627.46 206.15L628.76 206.13L630.00 206.10L631.18 206.07L632.31 206.04L633.41 206.00L634.46 205.96L635.48 205.92L636.47 205.87L637.43 205.82L638.35 205.77L639.25 205.72L640.12 205.66L640.98 205.60L641.81 205.54L642.62 205.48L643.42 205.42L644.20 205.35L644.98 205.28L645.74 205.21L646.50 205.14L647.25 205.07L648.00 205.00L648.74 204.93L649.44 204.85L650.13 204.78L650.78 204.71L651.42 204.63L652.04 204.56L652.64 204.48L653.23 204.40L653.81 204.32L654.38 204.23L654.93 204.14L655.49 204.05L656.04 203.96L656.59 203.86L657.14 203.76L657.70 203.66L658.26 203.55L658.83 203.44L659.41 203.32L660.00 203.20L660.60 203.07L661.21 202.94L661.82 202.81L662.43 202.67L663.05 202.53L663.66 202.39L664.28 202.24L664.90 202.09L665.51 201.93L666.12 201.78L666.74 201.61L667.34 201.45L667.95 201.28L668.55 201.11L669.14 200.93L669.73 200.75L670.31 200.57L670.88 200.38L671.45 200.19L672.00 200.00L672.55 199.80L673.09 199.60L673.63 199.39L674.16 199.18L674.69 198.96L675.21 198.74L675.73 198.51L676.24 198.28L676.75 198.05L677.25 197.81L677.75 197.58L678.24 197.34L678.73 197.10L679.21 196.85L679.69 196.61L680.16 196.37L680.63 196.13L681.09 195.88L681.55 195.64L682.00 195.40L682.44 195.16L682.88 194.93L683.30 194.70L683.72 194.47L684.13 194.24L684.53 194.01L684.93 193.78L685.32 193.55L685.71 193.32L686.10 193.09L686.48 192.85L686.87 192.61L687.25 192.36L687.63 192.10L688.02 191.84L688.41 191.57L688.80 191.29L689.19 191.01L689.59 190.71L690.00 190.40L690.41 190.08L690.82 189.76L691.24 189.43L691.65 189.10L692.07 188.76L692.49 188.42L692.91 188.06L693.33 187.71L693.75 187.34L694.17 186.97L694.59 186.59L695.01 186.20L695.44 185.81L695.86 185.40L696.28 184.99L696.71 184.57L697.13 184.14L697.55 183.71L697.98 183.26L698.40 182.80L698.83 182.33L699.26 181.86L699.69 181.37L700.13 180.88L700.57 180.38L701.02 179.87L701.46 179.35L701.91 178.82L702.35 178.29L702.79 177.74L703.23 177.19L703.67 176.63L704.10 176.07L704.52 175.49L704.94 174.91L705.35 174.32L705.75 173.73L706.15 173.13L706.53 172.52L706.90 171.90L707.26 171.28L707.61 170.67L707.95 170.06L708.28 169.45L708.60 168.84L708.92 168.23L709.23 167.61L709.53 166.98L709.83 166.34L710.12 165.69L710.42 165.02L710.70 164.34L710.99 163.64L711.27 162.91L711.56 162.16L711.84 161.39L712.13 160.59L712.42 159.76L712.71 158.90L713.00 158.00L713.29 157.06L713.59 156.08L713.87 155.07L714.16 154.02L714.45 152.93L714.73 151.82L715.02 150.69L715.30 149.53L715.58 148.36L715.86 147.18L716.14 145.98L716.42 144.77L716.71 143.57L716.99 142.36L717.27 141.15L717.55 139.96L717.84 138.77L718.12 137.59L718.41 136.44L718.70 135.30L718.99 134.17L719.29 133.02L719.60 131.86L719.91 130.69L720.22 129.51L720.53 128.33L720.85 127.15L721.17 125.97L721.48 124.79L721.79 123.62L722.10 122.47L722.41 121.32L722.71 120.20L723.01 119.09L723.30 118.00L723.58 116.94L723.85 115.91L724.11 114.90L724.36 113.93L724.60 113.00L724.83 112.10L725.04 111.25L725.25 110.42L725.44 109.63L725.63 108.86L725.81 108.12L725.98 107.40L726.14 106.70L726.31 106.02L726.46 105.35L726.62 104.69L726.77 104.04L726.92 103.39L727.07 102.74L727.22 102.09L727.37 101.43L727.52 100.77L727.68 100.09L727.84 99.41L728.00 98.70L728.17 97.97L728.35 97.21L728.53 96.42L728.72 95.61L728.91 94.79L729.10 93.96L729.29 93.13L729.49 92.29L729.68 91.47L729.86 90.66L730.05 89.86L730.22 89.09L730.39 88.35L730.56 87.64L730.71 86.97L730.85 86.34L730.98 85.77L731.10 85.25L731.21 84.79L731.30 84.40" fill="none" stroke="#ed1c24" stroke-width="1.2" stroke-linecap="round" stroke-linejoin="round"/>
<path d="M576.40 205.70L577.04 205.71L577.78 205.73L578.60 205.74L579.51 205.76L580.49 205.78L581.54 205.80L582.66 205.83L583.83 205.85L585.06 205.88L586.32 205.90L587.63 205.92L588.97 205.95L590.33 205.97L591.71 206.00L593.10 206.02L594.49 206.04L595.89 206.06L597.27 206.07L598.65 206.09L600.00 206.10L601.37 206.11L602.79 206.12L604.27 206.13L605.78 206.14L607.33 206.15L608.91 206.16L610.50 206.17L612.12 206.18L613.73 206.19L615.35 206.19L616.96 206.20L618.56 206.20L620.13 206.20L621.68 206.19L623.19 206.19L624.67 206.18L626.09 206.16L627.46 206.15L628.76 206.13L630.00 206.10L631.18 206.07L632.31 206.04L633.41 206.00L634.46 205.96L635.48 205.92L636.47 205.87L637.43 205.82L638.35 205.77L639.25 205.72L640.12 205.66L640.98 205.60L641.81 205.54L642.62 205.48L643.42 205.42L644.20 205.35L644.98 205.28L645.74 205.21L646.50 205.14L647.25 205.07L648.00 205.00L648.74 204.93L649.44 204.85L650.13 204.78L650.78 204.71L651.42 204.63L652.04 204.56L652.64 204.48L653.23 204.40L653.81 204.32L654.38 204.23L654.93 204.14L655.49 204.05L656.04 203.96L656.59 203.86L657.14 203.76L657.70 203.66L658.26 203.55L658.83 203.44L659.41 203.32L660.00 203.20L660.60 203.07L661.21 202.94L661.82 202.81L662.43 202.67L663.05 202.53L663.66 202.39L664.28 202.24L664.90 202.09L665.51 201.93L666.12 201.78L666.74 201.61L667.34 201.45L667.95 201.28L668.55 201.11L669.14 200.93L669.73 200.75L670.31 200.57L670.88 200.38L671.45 200.19L672.00 200.00L672.55 199.80L673.09 199.60L673.63 199.39L674.16 199.18L674.69 198.96L675.21 198.74L675.73 198.51L676.24 198.28L676.75 198.05L677.25 197.81L677.75 197.58L678.24 197.34L678.73 197.10L679.21 196.85L679.69 196.61L680.16 196.37L680.63 196.13L681.09 195.88L681.55 195.64L682.00 195.40L682.44 195.16L682.88 194.93L683.30 194.70L683.72 194.47L684.13 194.24L684.53 194.01L684.93 193.78L685.32 193.55L685.71 193.32L686.10 193.09L686.48 192.85L686.87 192.61L687.25 192.36L687.63 192.10L688.02 191.84L688.41 191.57L688.80 191.29L689.19 191.01L689.59 190.71L690.00 190.40L690.41 190.08L690.82 189.76L691.24 189.43L691.65 189.10L692.07 188.76L692.49 188.42L692.91 188.06L693.33 187.71L693.75 187.34L694.17 186.97L694.59 186.59L695.01 186.20L695.44 185.81L695.86 185.40L696.28 184.99L696.71 184.57L697.13 184.14L697.55 183.71L697.98 183.26L698.40 182.80L698.83 182.33L699.26 181.86L699.69 181.37L700.13 180.88L700.57 180.38L701.02 179.87L701.46 179.35L701.91 178.82L702.35 178.29L702.79 177.74L703.23 177.19L703.67 176.63L704.10 176.07L704.52 175.49L704.94 174.91L705.35 174.32L705.75 173.73L706.15 173.13L706.53 172.52L706.90 171.90L707.26 171.28L707.61 170.67L707.95 170.06L708.28 169.45L708.60 168.84L708.92 168.23L709.23 167.61L709.53 166.98L709.83 166.34L710.12 165.69L710.42 165.02L710.70 164.34L710.99 163.64L711.27 162.91L711.56 162.16L711.84 161.39L712.13 160.59L712.42 159.76L712.71 158.90L713.00 158.00L713.29 157.06L713.59 156.08L713.87 155.07L714.16 154.02L714.45 152.93L714.73 151.82L715.02 150.69L715.30 149.53L715.58 148.36L715.86 147.18L716.14 145.98L716.42 144.77L716.71 143.57L716.99 142.36L717.27 141.15L717.55 139.96L717.84 138.77L718.12 137.59L718.41 136.44L718.70 135.30L718.99 134.17L719.29 133.02L719.60 131.86L719.91 130.69L720.22 129.51L720.53 128.33L720.85 127.15L721.17 125.97L721.48 124.79L721.79 123.62L722.10 122.47L722.41 121.32L722.71 120.20L723.01 119.09L723.30 118.00L723.58 116.94L723.85 115.91L724.11 114.90L724.36 113.93L724.60 113.00L724.83 112.10L725.04 111.25L725.25 110.42L725.44 109.63L725.63 108.86L725.81 108.12L725.98 107.40L726.14 106.70L726.31 106.02L726.46 105.35L726.62 104.69L726.77 104.04L726.92 103.39L727.07 102.74L727.22 102.09L727.37 101.43L727.52 100.77L727.68 100.09L727.84 99.41L728.00 98.70L728.17 97.97L728.35 97.21L728.53 96.42L728.72 95.61L728.91 94.79L729.10 93.96L729.29 93.13L729.49 92.29L729.68 91.47L729.86 90.66L730.05 89.86L730.22 89.09L730.39 88.35L730.56 87.64L730.71 86.97L730.85 86.34L730.98 85.77L731.10 85.25L731.21 84.79L731.30 84.40" fill="none" stroke="#ed1c24" stroke-width="1.9" stroke-linecap="round" stroke-dasharray="0.01 2.6"/>
<path d="M766.33 81.33L766.48 80.66L766.63 79.99L766.77 79.32L766.92 78.66L767.06 78.00L767.21 77.33L767.35 76.67L767.50 76.00L767.65 75.32L767.80 74.62L767.95 73.91L768.11 73.18L768.26 72.46L768.41 71.72L768.57 70.99L768.72 70.27L768.86 69.56L769.01 68.86L769.15 68.17L769.28 67.51L769.41 66.88L769.53 66.27L769.65 65.70L769.76 65.17L769.86 64.68L769.95 64.24L770.03 63.84L770.10 63.50" fill="none" stroke="#ed1c24" stroke-width="1.25" stroke-linejoin="round"/>
<path d="M582.40 205.91L582.66 205.92L583.83 205.96L585.06 206.01L586.32 206.05L587.63 206.09L588.14 206.11M590.38 206.18L591.71 206.22L593.10 206.26L594.49 206.29L595.89 206.33L596.10 206.33M598.33 206.37L598.65 206.38L600.00 206.40L601.37 206.42L602.79 206.43L604.05 206.45M606.27 206.46L607.33 206.47L608.91 206.48L610.50 206.49L611.97 206.50M614.19 206.50L615.35 206.51L616.96 206.51L618.56 206.51L619.87 206.50M622.08 206.49L623.19 206.49L624.67 206.48L626.09 206.46L627.46 206.44L627.75 206.44M629.96 206.40L630.00 206.40L631.18 206.37L632.30 206.34L633.39 206.31L634.43 206.28L635.44 206.24L635.60 206.23M637.80 206.13L638.26 206.11L639.14 206.06L640.00 206.01L640.84 205.95L641.66 205.90L642.47 205.84L643.27 205.78L643.43 205.77M645.61 205.60L645.63 205.60L646.42 205.53L647.20 205.47L648.00 205.40L648.79 205.33L649.56 205.26L650.32 205.19L651.06 205.12L651.21 205.10M653.38 204.86L653.89 204.80L654.57 204.72L655.25 204.64L655.92 204.55L656.59 204.46L657.26 204.37L657.93 204.28L658.59 204.19L658.94 204.14M661.10 203.83L661.30 203.80L662.00 203.70L662.70 203.60L663.40 203.50L664.10 203.39L664.80 203.29L665.50 203.19L666.20 203.08L666.63 203.02M668.78 202.69L669.00 202.65L669.70 202.53L670.40 202.42L671.10 202.29L671.80 202.17L672.50 202.04L673.20 201.90L673.90 201.76L674.26 201.68M676.38 201.21L676.70 201.13L677.42 200.95L678.14 200.77L678.86 200.57L679.59 200.37L680.33 200.17L681.06 199.95L681.74 199.75M683.81 199.13L683.97 199.08L684.69 198.86L685.40 198.64L686.09 198.42L686.78 198.20L687.46 197.99L688.12 197.78L688.76 197.58L689.10 197.48M691.16 196.85L691.17 196.84L691.74 196.67L692.29 196.51L692.83 196.34L693.36 196.18L693.88 196.02L694.38 195.86L694.88 195.71L695.38 195.56L695.86 195.40L696.34 195.25L696.44 195.22M698.48 194.54L698.65 194.48L699.10 194.32L699.55 194.16L700.00 194.00L700.45 193.84L700.88 193.67L701.32 193.51L701.74 193.36L702.16 193.20L702.57 193.04L702.98 192.88L703.38 192.72L703.65 192.61M705.62 191.77L705.71 191.73L706.10 191.55L706.48 191.37L706.86 191.19L707.24 191.00L707.62 190.80L708.00 190.60L708.38 190.39L708.76 190.18L709.14 189.97L709.51 189.76L709.89 189.54L710.26 189.31L710.47 189.19M712.27 188.03L712.46 187.90L712.82 187.65L713.18 187.40L713.53 187.15L713.89 186.88L714.24 186.62L714.60 186.35L714.95 186.08L715.30 185.80L715.65 185.52L715.99 185.23L716.34 184.93L716.61 184.69M718.17 183.25L718.35 183.07L718.68 182.75L719.01 182.42L719.34 182.09L719.67 181.76L720.00 181.43L720.33 181.09L720.66 180.76L721.00 180.42L721.33 180.08L721.66 179.74L721.95 179.45M723.45 178.01L723.58 177.89L723.88 177.61L724.17 177.34L724.47 177.06L724.77 176.77L725.08 176.47L725.39 176.17L725.72 175.84L726.05 175.49L726.39 175.12L726.75 174.72L727.00 174.43M728.25 172.91L728.35 172.79L728.80 172.20L729.28 171.57L729.79 170.90L730.32 170.19L730.87 169.44L731.11 169.11M732.20 167.61L732.63 167.02L733.24 166.16L733.86 165.28L734.49 164.38L734.79 163.95M735.78 162.52L736.40 161.60L737.03 160.66L737.65 159.71L738.11 159.00M739.00 157.61L739.47 156.87L740.04 155.93L740.60 155.00L741.07 154.21M741.85 152.87L742.23 152.23L742.76 151.31L743.29 150.38L743.72 149.62M744.43 148.34L744.86 147.57L745.37 146.62L745.88 145.66L746.11 145.22M746.73 144.00L746.89 143.70L747.38 142.71L747.87 141.70L748.20 141.01M748.75 139.83L748.84 139.64L749.31 138.58L749.78 137.51L750.06 136.85M750.54 135.68L750.70 135.30L751.15 134.15L751.60 132.97L751.70 132.70M752.13 131.53L752.49 130.51L752.93 129.24L753.16 128.56M753.54 127.40L753.79 126.64L754.21 125.31L754.48 124.47M754.84 123.32L755.04 122.65L755.45 121.32L755.72 120.43M756.05 119.30L756.24 118.66L756.63 117.35L756.90 116.46M757.22 115.35L757.38 114.79L757.75 113.55L758.04 112.55M758.36 111.47L758.46 111.15L758.80 110.00L759.13 108.88L759.18 108.72M759.49 107.66L759.78 106.69L760.09 105.62L760.27 104.96M760.57 103.91L760.68 103.51L760.97 102.48L761.26 101.46L761.31 101.25M761.59 100.22L761.80 99.46L762.06 98.49L762.30 97.61M762.57 96.59L762.57 96.57L762.82 95.64L763.06 94.71L763.24 94.02M763.50 93.02L763.53 92.91L763.76 92.03L763.98 91.16L764.15 90.49M764.40 89.51L764.41 89.46L764.62 88.64L764.82 87.85L765.01 87.07L765.01 87.03M765.25 86.06L765.37 85.56L765.54 84.82L765.70 84.10L765.82 83.61M766.03 82.66L766.18 82.01L766.33 81.33" fill="none" stroke="#ed1c24" stroke-width="1.55" stroke-linejoin="round"/>
<path d="M589.12 206.14L586.00 207.57L586.10 204.51ZM597.07 206.35L594.00 207.81L594.06 204.77ZM605.01 206.45L601.97 207.94L602.00 204.91ZM612.93 206.50L609.92 207.99L609.93 204.99ZM620.82 206.50L617.84 208.00L617.83 205.02ZM628.69 206.42L625.75 207.95L625.71 204.99ZM636.54 206.19L633.66 207.79L633.54 204.84ZM644.35 205.70L641.55 207.38L641.33 204.46ZM652.13 205.00L649.39 206.75L649.09 203.86ZM659.85 204.01L657.20 205.84L656.79 202.99ZM667.53 202.88L664.91 204.73L664.48 201.89ZM675.15 201.50L672.65 203.47L672.07 200.69ZM682.60 199.50L680.29 201.65L679.49 198.94ZM689.95 197.21L687.69 199.38L686.86 196.70ZM697.29 194.94L695.06 197.13L694.21 194.47ZM704.46 192.28L702.41 194.60L701.38 192.03ZM711.21 188.73L709.58 191.34L708.15 188.99ZM717.26 184.12L716.11 186.95L714.31 184.90ZM722.56 178.84L721.61 181.72L719.69 179.81ZM727.56 173.78L726.82 176.69L724.78 174.93ZM731.61 168.42L731.11 171.37L728.95 169.79ZM735.27 163.26L734.85 166.20L732.67 164.69ZM738.57 158.29L738.24 161.23L736.03 159.79ZM741.49 153.49L741.29 156.42L739.03 155.08ZM744.13 148.89L743.98 151.81L741.71 150.53Z" fill="#ed1c24"/>
<path d="M802.89 71.73L803.11 70.99L803.34 70.24L803.56 69.46L803.78 68.66L804.01 67.81L804.24 66.93L804.47 65.99L804.70 65.00L804.94 63.93L805.19 62.78L805.44 61.56L805.70 60.27L805.95 58.94L806.21 57.57L806.47 56.17L806.72 54.76L806.97 53.35L807.22 51.94L807.46 50.56L807.69 49.21L807.91 47.91L808.13 46.66L808.33 45.48L808.51 44.38L808.69 43.37L808.84 42.46L808.98 41.67L809.10 41.00" fill="none" stroke="#ed1c24" stroke-width="1.25" stroke-linejoin="round"/>
<path d="M584.39 206.06L585.06 206.09L586.32 206.15L587.63 206.21L588.97 206.26L590.33 206.32L590.70 206.33M593.40 206.43L594.49 206.46L595.89 206.51L597.27 206.54L598.65 206.57L599.71 206.59M602.42 206.64L602.79 206.64L604.25 206.66L605.75 206.67L607.28 206.68L608.75 206.69M611.47 206.70L612.02 206.70L613.62 206.71L615.23 206.71L616.82 206.70L617.81 206.70M620.52 206.69L621.53 206.69L623.05 206.68L624.54 206.67L625.98 206.65L626.87 206.64M629.59 206.61L630.00 206.60L631.23 206.58L632.42 206.56L633.58 206.53L634.70 206.50L635.80 206.47L635.95 206.47M638.68 206.37L638.91 206.37L639.90 206.33L640.88 206.29L641.83 206.25L642.77 206.20L643.69 206.16L644.61 206.11L645.04 206.09M647.77 205.93L648.21 205.91L649.10 205.85L650.00 205.80L650.89 205.74L651.77 205.69L652.64 205.63L653.49 205.57L654.14 205.52M656.86 205.31L657.58 205.24L658.38 205.18L659.16 205.10L659.94 205.03L660.71 204.96L661.47 204.88L662.23 204.81L662.99 204.73L663.23 204.70M665.95 204.41L666.00 204.40L666.75 204.31L667.50 204.23L668.25 204.13L668.99 204.04L669.73 203.95L670.47 203.85L671.21 203.75L671.94 203.65L672.30 203.60M675.02 203.21L675.48 203.14L676.16 203.03L676.83 202.93L677.49 202.82L678.14 202.72L678.77 202.61L679.39 202.51L680.00 202.40L680.59 202.29L681.16 202.19L681.34 202.15M684.04 201.60L684.29 201.54L684.77 201.43L685.25 201.32L685.72 201.21L686.19 201.10L686.66 200.99L687.13 200.88L687.59 200.77L688.06 200.66L688.54 200.54L689.02 200.43L689.50 200.31L690.00 200.20L690.29 200.13M692.98 199.53L693.00 199.52L693.50 199.41L694.00 199.30L694.50 199.18L695.00 199.07L695.50 198.95L696.00 198.83L696.50 198.71L697.00 198.59L697.50 198.47L698.00 198.34L698.50 198.21L699.00 198.08L699.23 198.01M701.88 197.25L702.02 197.21L702.53 197.06L703.04 196.90L703.55 196.74L704.06 196.58L704.57 196.42L705.08 196.26L705.59 196.09L706.09 195.92L706.60 195.75L707.10 195.58L707.59 195.40L708.01 195.25M710.59 194.27L710.89 194.15L711.30 193.98L711.69 193.82L712.08 193.66L712.45 193.51L712.82 193.35L713.18 193.19L713.55 193.03L713.93 192.86L714.31 192.68L714.70 192.49L715.11 192.29L715.54 192.07L715.99 191.84L716.46 191.60M718.90 190.29L719.36 190.04L720.06 189.65L720.80 189.24L721.57 188.81L722.37 188.36L723.20 187.90L724.04 187.42L724.54 187.13M726.94 185.75L727.60 185.37L728.51 184.84L729.42 184.30L730.32 183.76L731.22 183.23L732.11 182.69L732.51 182.45M734.87 180.99L735.50 180.60L736.30 180.10L737.10 179.60L737.89 179.11L738.68 178.62L739.47 178.14L740.26 177.65L740.39 177.57M742.74 176.09L743.36 175.69L744.12 175.19L744.88 174.68L745.63 174.16L746.37 173.63L747.11 173.10L747.85 172.55L748.07 172.37M750.22 170.61L750.70 170.20L751.39 169.58L752.06 168.95L752.71 168.32L753.35 167.67L753.97 167.02L754.59 166.37L754.87 166.06M756.71 163.97L757.00 163.63L757.60 162.92L758.20 162.19L758.81 161.45L759.43 160.69L760.05 159.92L760.65 159.19M762.32 157.13L762.69 156.66L763.40 155.80L764.13 154.92L764.89 154.02L765.67 153.10L766.05 152.65M767.68 150.75L768.10 150.25L768.94 149.27L769.78 148.27L770.63 147.26L771.22 146.55M772.70 144.73L773.17 144.14L774.01 143.07L774.83 141.99L775.65 140.91L775.85 140.63M777.13 138.82L777.22 138.69L777.97 137.57L778.70 136.44L779.40 135.30L779.75 134.71M780.78 132.90L781.38 131.79L782.02 130.59L782.63 129.38L782.90 128.83M783.76 127.07L783.83 126.91L784.42 125.66L784.99 124.40L785.55 123.12L785.55 123.12M786.28 121.42L786.65 120.55L787.19 119.25L787.72 117.95L787.89 117.52M788.55 115.84L788.76 115.32L789.27 113.99L789.79 112.67L790.03 112.02M790.66 110.38L790.80 110.00L791.30 108.64L791.80 107.25L792.02 106.63M792.57 105.01L792.79 104.38L793.27 102.91L793.75 101.42L793.78 101.33M794.28 99.74L794.68 98.42L795.14 96.92L795.38 96.13M795.85 94.58L796.04 93.94L796.47 92.47L796.89 91.06M797.33 89.55L797.72 88.20L798.12 86.85L798.33 86.12M798.77 84.65L798.88 84.27L799.25 83.06L799.60 81.90L799.78 81.32M800.23 79.90L800.26 79.79L800.57 78.83L800.87 77.92L801.15 77.05L801.27 76.68M801.73 75.31L801.94 74.67L802.19 73.93L802.42 73.19L802.66 72.46L802.75 72.18" fill="none" stroke="#ed1c24" stroke-width="1.65" stroke-linejoin="round"/>
<path d="M591.77 206.37L588.32 207.94L588.45 204.55ZM600.79 206.61L597.39 208.23L597.45 204.87ZM609.82 206.70L606.46 208.35L606.48 205.01ZM618.86 206.70L615.55 208.37L615.54 205.05ZM627.92 206.63L624.64 208.31L624.61 205.02ZM636.99 206.43L633.77 208.17L633.67 204.90ZM646.07 206.03L642.92 207.83L642.75 204.58ZM655.16 205.45L652.06 207.29L651.83 204.07ZM664.24 204.60L661.23 206.52L660.89 203.34ZM673.30 203.46L670.38 205.47L669.94 202.33ZM682.33 201.97L679.53 204.11L678.94 201.01ZM691.26 199.91L688.56 202.13L687.86 199.08ZM700.18 197.75L697.60 200.07L696.78 197.08ZM708.93 194.92L706.55 197.41L705.51 194.51ZM717.32 191.15L715.31 193.92L713.91 191.20ZM725.38 186.65L723.50 189.48L721.99 186.84ZM733.33 181.95L731.54 184.80L729.98 182.23ZM741.19 177.07L739.45 179.91L737.87 177.38ZM748.81 171.80L747.38 174.78L745.56 172.44ZM755.50 165.37L754.60 168.53L752.43 166.55ZM761.23 158.47L760.53 161.65L758.27 159.82ZM766.65 151.95L765.87 155.08L763.67 153.21ZM771.80 145.85L771.07 148.97L768.86 147.14Z" fill="#ed1c24"/>
<path d="M657.00 119.60L656.90 119.65L656.79 119.70L656.66 119.76L656.51 119.84L656.35 119.92L656.18 120.00L655.99 120.09L655.80 120.18L655.61 120.28L655.41 120.38L655.20 120.47L655.00 120.57L654.79 120.67L654.59 120.76L654.39 120.85L654.19 120.93L654.00 121.01L653.83 121.08L653.66 121.15L653.50 121.20L653.36 121.25L653.22 121.28L653.10 121.32L652.98 121.34L652.87 121.36L652.77 121.38L652.67 121.39L652.57 121.40L652.47 121.41L652.37 121.42L652.27 121.43L652.16 121.43L652.05 121.44L651.93 121.45L651.81 121.46L651.67 121.48L651.52 121.50L651.36 121.53L651.19 121.56L651.00 121.60L650.80 121.64L650.58 121.69L650.36 121.74L650.12 121.79L649.88 121.84L649.63 121.90L649.37 121.96L649.11 122.02L648.83 122.08L648.56 122.14L648.27 122.21L647.99 122.28L647.69 122.35L647.40 122.42L647.10 122.50L646.80 122.57L646.50 122.65L646.20 122.73L645.90 122.82L645.60 122.90L645.30 122.99L644.99 123.08L644.67 123.17L644.35 123.27L644.02 123.36L643.69 123.46L643.35 123.57L643.02 123.67L642.68 123.78L642.34 123.89L642.00 124.00L641.65 124.11L641.31 124.22L640.97 124.33L640.64 124.44L640.30 124.55L639.97 124.67L639.64 124.78L639.32 124.89L639.00 125.00L638.69 125.11L638.38 125.21L638.08 125.32L637.77 125.42L637.48 125.52L637.18 125.62L636.89 125.72L636.60 125.82L636.30 125.92L636.01 126.02L635.72 126.13L635.43 126.24L635.14 126.35L634.84 126.47L634.54 126.59L634.24 126.72L633.94 126.86L633.63 127.00L633.32 127.14L633.00 127.30L632.67 127.47L632.34 127.64L631.99 127.83L631.64 128.02L631.28 128.23L630.91 128.44L630.54 128.65L630.17 128.87L629.81 129.09L629.44 129.31L629.07 129.54L628.71 129.76L628.36 129.98L628.02 130.20L627.68 130.42L627.36 130.63L627.04 130.83L626.75 131.03L626.46 131.22L626.20 131.40L625.95 131.57L625.71 131.73L625.48 131.88L625.26 132.02L625.05 132.16L624.85 132.29L624.66 132.42L624.47 132.55L624.29 132.67L624.12 132.79L623.96 132.92L623.81 133.05L623.66 133.18L623.52 133.31L623.39 133.46L623.26 133.60L623.14 133.76L623.02 133.93L622.91 134.11L622.80 134.30L622.70 134.51L622.61 134.74L622.53 134.98L622.46 135.25L622.40 135.52L622.34 135.80L622.30 136.09L622.25 136.39L622.22 136.69L622.19 136.98L622.16 137.27L622.14 137.56L622.12 137.84L622.10 138.10L622.08 138.35L622.07 138.59L622.05 138.80L622.04 138.99L622.02 139.16L622.00 139.30" fill="none" stroke="#ed1c24" stroke-width="1.2" stroke-linecap="round" stroke-linejoin="round"/>
<path d="M657.00 119.60L656.90 119.65L656.79 119.70L656.66 119.76L656.51 119.84L656.35 119.92L656.18 120.00L655.99 120.09L655.80 120.18L655.61 120.28L655.41 120.38L655.20 120.47L655.00 120.57L654.79 120.67L654.59 120.76L654.39 120.85L654.19 120.93L654.00 121.01L653.83 121.08L653.66 121.15L653.50 121.20L653.36 121.25L653.22 121.28L653.10 121.32L652.98 121.34L652.87 121.36L652.77 121.38L652.67 121.39L652.57 121.40L652.47 121.41L652.37 121.42L652.27 121.43L652.16 121.43L652.05 121.44L651.93 121.45L651.81 121.46L651.67 121.48L651.52 121.50L651.36 121.53L651.19 121.56L651.00 121.60L650.80 121.64L650.58 121.69L650.36 121.74L650.12 121.79L649.88 121.84L649.63 121.90L649.37 121.96L649.11 122.02L648.83 122.08L648.56 122.14L648.27 122.21L647.99 122.28L647.69 122.35L647.40 122.42L647.10 122.50L646.80 122.57L646.50 122.65L646.20 122.73L645.90 122.82L645.60 122.90L645.30 122.99L644.99 123.08L644.67 123.17L644.35 123.27L644.02 123.36L643.69 123.46L643.35 123.57L643.02 123.67L642.68 123.78L642.34 123.89L642.00 124.00L641.65 124.11L641.31 124.22L640.97 124.33L640.64 124.44L640.30 124.55L639.97 124.67L639.64 124.78L639.32 124.89L639.00 125.00L638.69 125.11L638.38 125.21L638.08 125.32L637.77 125.42L637.48 125.52L637.18 125.62L636.89 125.72L636.60 125.82L636.30 125.92L636.01 126.02L635.72 126.13L635.43 126.24L635.14 126.35L634.84 126.47L634.54 126.59L634.24 126.72L633.94 126.86L633.63 127.00L633.32 127.14L633.00 127.30L632.67 127.47L632.34 127.64L631.99 127.83L631.64 128.02L631.28 128.23L630.91 128.44L630.54 128.65L630.17 128.87L629.81 129.09L629.44 129.31L629.07 129.54L628.71 129.76L628.36 129.98L628.02 130.20L627.68 130.42L627.36 130.63L627.04 130.83L626.75 131.03L626.46 131.22L626.20 131.40L625.95 131.57L625.71 131.73L625.48 131.88L625.26 132.02L625.05 132.16L624.85 132.29L624.66 132.42L624.47 132.55L624.29 132.67L624.12 132.79L623.96 132.92L623.81 133.05L623.66 133.18L623.52 133.31L623.39 133.46L623.26 133.60L623.14 133.76L623.02 133.93L622.91 134.11L622.80 134.30L622.70 134.51L622.61 134.74L622.53 134.98L622.46 135.25L622.40 135.52L622.34 135.80L622.30 136.09L622.25 136.39L622.22 136.69L622.19 136.98L622.16 137.27L622.14 137.56L622.12 137.84L622.10 138.10L622.08 138.35L622.07 138.59L622.05 138.80L622.04 138.99L622.02 139.16L622.00 139.30" fill="none" stroke="#ed1c24" stroke-width="1.9" stroke-linecap="round" stroke-dasharray="0.01 2.6"/>
<path d="M694.30 101.80L694.25 101.82L694.20 101.85L694.13 101.88L694.07 101.91L693.99 101.95L693.91 101.99L693.83 102.03L693.74 102.07L693.65 102.12L693.56 102.16L693.46 102.21L693.36 102.26L693.25 102.30L693.15 102.35L693.04 102.40L692.93 102.44L692.83 102.48L692.72 102.52L692.61 102.56L692.50 102.60L692.39 102.63L692.29 102.67L692.19 102.70L692.08 102.73L691.98 102.76L691.88 102.79L691.78 102.81L691.67 102.84L691.56 102.87L691.45 102.89L691.33 102.92L691.21 102.95L691.09 102.98L690.96 103.00L690.82 103.03L690.67 103.06L690.52 103.10L690.35 103.13L690.18 103.16L690.00 103.20L689.81 103.24L689.62 103.28L689.43 103.32L689.24 103.36L689.04 103.40L688.84 103.44L688.63 103.48L688.42 103.52L688.20 103.57L687.97 103.61L687.73 103.66L687.48 103.70L687.22 103.75L686.95 103.80L686.66 103.85L686.36 103.90L686.04 103.95L685.71 104.00L685.37 104.05L685.00 104.10L684.61 104.15L684.20 104.21L683.77 104.26L683.31 104.32L682.84 104.37L682.35 104.43L681.85 104.49L681.33 104.54L680.81 104.60L680.27 104.66L679.74 104.72L679.20 104.78L678.65 104.85L678.11 104.91L677.58 104.97L677.04 105.04L676.52 105.10L676.00 105.17L675.49 105.23L675.00 105.30L674.52 105.37L674.04 105.43L673.56 105.50L673.08 105.56L672.61 105.63L672.14 105.70L671.67 105.76L671.21 105.83L670.74 105.90L670.28 105.97L669.81 106.04L669.35 106.11L668.88 106.19L668.42 106.27L667.95 106.35L667.48 106.43L667.02 106.52L666.55 106.61L666.07 106.70L665.60 106.80L665.12 106.90L664.64 107.01L664.15 107.12L663.66 107.23L663.16 107.35L662.66 107.47L662.16 107.60L661.66 107.72L661.17 107.85L660.67 107.98L660.17 108.11L659.68 108.24L659.20 108.38L658.72 108.51L658.24 108.64L657.78 108.78L657.32 108.91L656.87 109.04L656.43 109.17L656.00 109.30L655.58 109.43L655.18 109.55L654.78 109.68L654.40 109.80L654.02 109.92L653.65 110.05L653.29 110.17L652.93 110.29L652.58 110.42L652.23 110.54L651.88 110.67L651.54 110.80L651.19 110.93L650.85 111.06L650.50 111.19L650.15 111.33L649.79 111.47L649.44 111.61L649.07 111.75L648.70 111.90L648.32 112.05L647.94 112.21L647.55 112.37L647.16 112.53L646.76 112.70L646.36 112.86L645.96 113.03L645.56 113.21L645.16 113.38L644.76 113.56L644.36 113.73L643.96 113.91L643.57 114.09L643.18 114.26L642.80 114.44L642.42 114.61L642.06 114.79L641.69 114.96L641.34 115.13L641.00 115.30L640.67 115.46L640.35 115.62L640.05 115.77L639.76 115.91L639.47 116.05L639.20 116.18L638.93 116.32L638.66 116.45L638.39 116.59L638.13 116.73L637.87 116.88L637.60 117.03L637.33 117.18L637.06 117.35L636.77 117.52L636.48 117.71L636.18 117.91L635.87 118.12L635.54 118.35L635.20 118.60L634.84 118.86L634.47 119.14L634.09 119.42L633.70 119.72L633.30 120.03L632.89 120.35L632.48 120.69L632.06 121.02L631.63 121.37L631.21 121.72L630.78 122.09L630.34 122.45L629.91 122.82L629.48 123.20L629.06 123.58L628.63 123.96L628.22 124.34L627.80 124.73L627.40 125.11L627.00 125.50L626.60 125.89L626.20 126.31L625.79 126.73L625.38 127.17L624.96 127.62L624.54 128.07L624.12 128.54L623.71 129.00L623.30 129.47L622.89 129.93L622.50 130.39L622.11 130.85L621.73 131.29L621.36 131.73L621.01 132.15L620.67 132.56L620.35 132.95L620.04 133.33L619.76 133.67L619.50 134.00L619.26 134.30L619.04 134.59L618.84 134.85L618.65 135.10L618.49 135.34L618.33 135.56L618.19 135.77L618.06 135.97L617.95 136.16L617.84 136.34L617.74 136.52L617.64 136.69L617.56 136.85L617.47 137.02L617.40 137.18L617.32 137.34L617.24 137.50L617.16 137.66L617.08 137.83L617.00 138.00L616.92 138.17L616.84 138.34L616.77 138.51L616.70 138.67L616.63 138.83L616.57 138.99L616.51 139.14L616.46 139.30L616.41 139.45L616.37 139.59L616.33 139.74L616.29 139.88L616.26 140.03L616.22 140.17L616.20 140.31L616.17 140.45L616.15 140.59L616.13 140.72L616.11 140.86L616.10 141.00L616.09 141.14L616.08 141.28L616.08 141.42L616.08 141.56L616.09 141.70L616.10 141.84L616.11 141.98L616.12 142.12L616.14 142.26L616.16 142.39L616.19 142.53L616.21 142.65L616.24 142.78L616.27 142.90L616.31 143.01L616.34 143.12L616.38 143.23L616.42 143.33L616.46 143.42L616.50 143.50L616.54 143.58L616.59 143.65L616.65 143.72L616.70 143.78L616.76 143.84L616.82 143.89L616.88 143.94L616.95 143.99L617.02 144.03L617.09 144.06L617.16 144.09L617.23 144.12L617.30 144.14L617.37 144.16L617.45 144.18L617.52 144.19L617.59 144.20L617.66 144.20L617.73 144.20L617.80 144.20L617.87 144.19L617.93 144.19L617.99 144.18L618.05 144.17L618.11 144.16L618.17 144.15L618.23 144.13L618.29 144.10L618.35 144.08L618.41 144.04L618.47 144.01L618.53 143.96L618.60 143.91L618.67 143.85L618.75 143.78L618.83 143.70L618.91 143.62L619.00 143.52L619.10 143.42L619.20 143.30L619.31 143.17L619.44 143.01L619.57 142.83L619.72 142.63L619.87 142.42L620.03 142.20L620.19 141.97L620.35 141.73L620.52 141.49L620.69 141.24L620.85 141.00L621.01 140.76L621.17 140.53L621.32 140.30L621.46 140.09L621.60 139.89L621.72 139.71L621.83 139.55L621.92 139.41L622.00 139.30" fill="none" stroke="#ed1c24" stroke-width="1.2" stroke-linecap="round" stroke-linejoin="round"/>
<path d="M694.30 101.80L694.25 101.82L694.20 101.85L694.13 101.88L694.07 101.91L693.99 101.95L693.91 101.99L693.83 102.03L693.74 102.07L693.65 102.12L693.56 102.16L693.46 102.21L693.36 102.26L693.25 102.30L693.15 102.35L693.04 102.40L692.93 102.44L692.83 102.48L692.72 102.52L692.61 102.56L692.50 102.60L692.39 102.63L692.29 102.67L692.19 102.70L692.08 102.73L691.98 102.76L691.88 102.79L691.78 102.81L691.67 102.84L691.56 102.87L691.45 102.89L691.33 102.92L691.21 102.95L691.09 102.98L690.96 103.00L690.82 103.03L690.67 103.06L690.52 103.10L690.35 103.13L690.18 103.16L690.00 103.20L689.81 103.24L689.62 103.28L689.43 103.32L689.24 103.36L689.04 103.40L688.84 103.44L688.63 103.48L688.42 103.52L688.20 103.57L687.97 103.61L687.73 103.66L687.48 103.70L687.22 103.75L686.95 103.80L686.66 103.85L686.36 103.90L686.04 103.95L685.71 104.00L685.37 104.05L685.00 104.10L684.61 104.15L684.20 104.21L683.77 104.26L683.31 104.32L682.84 104.37L682.35 104.43L681.85 104.49L681.33 104.54L680.81 104.60L680.27 104.66L679.74 104.72L679.20 104.78L678.65 104.85L678.11 104.91L677.58 104.97L677.04 105.04L676.52 105.10L676.00 105.17L675.49 105.23L675.00 105.30L674.52 105.37L674.04 105.43L673.56 105.50L673.08 105.56L672.61 105.63L672.14 105.70L671.67 105.76L671.21 105.83L670.74 105.90L670.28 105.97L669.81 106.04L669.35 106.11L668.88 106.19L668.42 106.27L667.95 106.35L667.48 106.43L667.02 106.52L666.55 106.61L666.07 106.70L665.60 106.80L665.12 106.90L664.64 107.01L664.15 107.12L663.66 107.23L663.16 107.35L662.66 107.47L662.16 107.60L661.66 107.72L661.17 107.85L660.67 107.98L660.17 108.11L659.68 108.24L659.20 108.38L658.72 108.51L658.24 108.64L657.78 108.78L657.32 108.91L656.87 109.04L656.43 109.17L656.00 109.30L655.58 109.43L655.18 109.55L654.78 109.68L654.40 109.80L654.02 109.92L653.65 110.05L653.29 110.17L652.93 110.29L652.58 110.42L652.23 110.54L651.88 110.67L651.54 110.80L651.19 110.93L650.85 111.06L650.50 111.19L650.15 111.33L649.79 111.47L649.44 111.61L649.07 111.75L648.70 111.90L648.32 112.05L647.94 112.21L647.55 112.37L647.16 112.53L646.76 112.70L646.36 112.86L645.96 113.03L645.56 113.21L645.16 113.38L644.76 113.56L644.36 113.73L643.96 113.91L643.57 114.09L643.18 114.26L642.80 114.44L642.42 114.61L642.06 114.79L641.69 114.96L641.34 115.13L641.00 115.30L640.67 115.46L640.35 115.62L640.05 115.77L639.76 115.91L639.47 116.05L639.20 116.18L638.93 116.32L638.66 116.45L638.39 116.59L638.13 116.73L637.87 116.88L637.60 117.03L637.33 117.18L637.06 117.35L636.77 117.52L636.48 117.71L636.18 117.91L635.87 118.12L635.54 118.35L635.20 118.60L634.84 118.86L634.47 119.14L634.09 119.42L633.70 119.72L633.30 120.03L632.89 120.35L632.48 120.69L632.06 121.02L631.63 121.37L631.21 121.72L630.78 122.09L630.34 122.45L629.91 122.82L629.48 123.20L629.06 123.58L628.63 123.96L628.22 124.34L627.80 124.73L627.40 125.11L627.00 125.50L626.60 125.89L626.20 126.31L625.79 126.73L625.38 127.17L624.96 127.62L624.54 128.07L624.12 128.54L623.71 129.00L623.30 129.47L622.89 129.93L622.50 130.39L622.11 130.85L621.73 131.29L621.36 131.73L621.01 132.15L620.67 132.56L620.35 132.95L620.04 133.33L619.76 133.67L619.50 134.00L619.26 134.30L619.04 134.59L618.84 134.85L618.65 135.10L618.49 135.34L618.33 135.56L618.19 135.77L618.06 135.97L617.95 136.16L617.84 136.34L617.74 136.52L617.64 136.69L617.56 136.85L617.47 137.02L617.40 137.18L617.32 137.34L617.24 137.50L617.16 137.66L617.08 137.83L617.00 138.00L616.92 138.17L616.84 138.34L616.77 138.51L616.70 138.67L616.63 138.83L616.57 138.99L616.51 139.14L616.46 139.30L616.41 139.45L616.37 139.59L616.33 139.74L616.29 139.88L616.26 140.03L616.22 140.17L616.20 140.31L616.17 140.45L616.15 140.59L616.13 140.72L616.11 140.86L616.10 141.00L616.09 141.14L616.08 141.28L616.08 141.42L616.08 141.56L616.09 141.70L616.10 141.84L616.11 141.98L616.12 142.12L616.14 142.26L616.16 142.39L616.19 142.53L616.21 142.65L616.24 142.78L616.27 142.90L616.31 143.01L616.34 143.12L616.38 143.23L616.42 143.33L616.46 143.42L616.50 143.50L616.54 143.58L616.59 143.65L616.65 143.72L616.70 143.78L616.76 143.84L616.82 143.89L616.88 143.94L616.95 143.99L617.02 144.03L617.09 144.06L617.16 144.09L617.23 144.12L617.30 144.14L617.37 144.16L617.45 144.18L617.52 144.19L617.59 144.20L617.66 144.20L617.73 144.20L617.80 144.20L617.87 144.19L617.93 144.19L617.99 144.18L618.05 144.17L618.11 144.16L618.17 144.15L618.23 144.13L618.29 144.10L618.35 144.08L618.41 144.04L618.47 144.01L618.53 143.96L618.60 143.91L618.67 143.85L618.75 143.78L618.83 143.70L618.91 143.62L619.00 143.52L619.10 143.42L619.20 143.30L619.31 143.17L619.44 143.01L619.57 142.83L619.72 142.63L619.87 142.42L620.03 142.20L620.19 141.97L620.35 141.73L620.52 141.49L620.69 141.24L620.85 141.00L621.01 140.76L621.17 140.53L621.32 140.30L621.46 140.09L621.60 139.89L621.72 139.71L621.83 139.55L621.92 139.41L622.00 139.30" fill="none" stroke="#ed1c24" stroke-width="1.9" stroke-linecap="round" stroke-dasharray="0.01 2.6"/>
<path d="M731.30 84.40L731.27 84.45L731.24 84.52L731.20 84.59L731.15 84.67L731.10 84.76L731.05 84.86L731.00 84.96L730.94 85.07L730.89 85.18L730.82 85.29L730.76 85.40L730.70 85.51L730.64 85.63L730.57 85.74L730.51 85.84L730.44 85.95L730.38 86.05L730.32 86.14L730.26 86.22L730.20 86.30L730.14 86.37L730.09 86.44L730.03 86.51L729.98 86.57L729.93 86.63L729.87 86.69L729.82 86.74L729.77 86.80L729.71 86.85L729.66 86.90L729.60 86.95L729.54 86.99L729.48 87.04L729.42 87.08L729.36 87.12L729.29 87.16L729.22 87.20L729.15 87.23L729.08 87.27L729.00 87.30L728.92 87.33" fill="none" stroke="#ed1c24" stroke-width="1.25" stroke-linejoin="round"/>
<path d="M632.94 115.86L632.46 116.33L631.99 116.80L631.53 117.26L631.08 117.72L630.64 118.16L630.20 118.60L629.77 119.03L629.36 119.45L628.95 119.86L628.55 120.28L628.16 120.68L627.78 121.09L627.41 121.48L627.04 121.88L626.68 122.27L626.33 122.66L625.98 123.05L625.63 123.44L625.29 123.82L624.96 124.20L624.63 124.59L624.30 124.97L623.97 125.35L623.65 125.73L623.32 126.12L623.00 126.50L622.68 126.89L622.35 127.28L622.03 127.68L621.71 128.07L621.39 128.47L621.07 128.87L620.76 129.27L620.45 129.67L620.14 130.07L619.84 130.46L619.55 130.85L619.26 131.24L618.98 131.61L618.71 131.98L618.45 132.35L618.20 132.70L617.96 133.04L617.73 133.37L617.51 133.69L617.30 134.00L617.11 134.29L616.93 134.58L616.76 134.85L616.60 135.11L616.45 135.36L616.31 135.60L616.18 135.84L616.06 136.06L615.95 136.28L615.84 136.50L615.74 136.71L615.65 136.92L615.56 137.12L615.47 137.32L615.39 137.52L615.31 137.71L615.23 137.91L615.15 138.10L615.08 138.30L615.00 138.50L614.92 138.70L614.85 138.89L614.78 139.08L614.72 139.27L614.66 139.46L614.60 139.64L614.55 139.82L614.50 140.00L614.45 140.17L614.41 140.34L614.37 140.51L614.33 140.68L614.30 140.85L614.28 141.02L614.25 141.18L614.23 141.35L614.22 141.51L614.21 141.67L614.20 141.84L614.20 142.00L614.20 142.16L614.21 142.33L614.23 142.50L614.25 142.67L614.27 142.83L614.30 143.00L614.33 143.17L614.37 143.34L614.41 143.50L614.46 143.66L614.50 143.82L614.55 143.98L614.60 144.13L614.66 144.27L614.71 144.41L614.77 144.54L614.83 144.67L614.88 144.79L614.94 144.90L615.00 145.00L615.06 145.09L615.12 145.18L615.19 145.27L615.26 145.34L615.33 145.41L615.40 145.48L615.47 145.54L615.55 145.60L615.63 145.65L615.71 145.69L615.79 145.73L615.87 145.77L615.95 145.80L616.03 145.83L616.11 145.85L616.19 145.87L616.27 145.88L616.35 145.89L616.42 145.90L616.50 145.90L616.57 145.90L616.64 145.90L616.70 145.91L616.76 145.91L616.82 145.91L616.87 145.91L616.93 145.91L616.98 145.90L617.04 145.88L617.09 145.86L617.15 145.83L617.22 145.79L617.29 145.74L617.37 145.68L617.45 145.60L617.54 145.52L617.64 145.41L617.75 145.29L617.87 145.16L618.00 145.00L618.15 144.82L618.32 144.60L618.50 144.35L618.70 144.08L618.92 143.78L619.14 143.46L619.37 143.13L619.61 142.79L619.85 142.44L620.09 142.09L620.33 141.74L620.57 141.40L620.80 141.06L621.02 140.74L621.22 140.44L621.42 140.15L621.59 139.89L621.75 139.66L621.89 139.46L622.00 139.30" fill="none" stroke="#ed1c24" stroke-width="1.25" stroke-linejoin="round"/>
<path d="M728.45 87.49L728.41 87.49L728.34 87.51L728.26 87.52L728.17 87.53L728.07 87.54L727.96 87.55L727.84 87.56L727.71 87.56L727.56 87.57L727.39 87.58L727.20 87.59L727.00 87.60L726.77 87.61L726.52 87.62L726.25 87.63L725.96 87.63L725.65 87.64L725.32 87.64L724.98 87.65L724.63 87.65L724.28 87.66L724.24 87.66M722.26 87.68L722.07 87.68L721.72 87.68L721.37 87.69L721.03 87.69L720.71 87.70L720.40 87.70L720.11 87.70L719.84 87.71L719.58 87.71L719.33 87.71L719.10 87.71L718.87 87.71L718.64 87.71L718.42 87.71L718.20 87.71L718.04 87.71M716.06 87.75L715.76 87.77L715.39 87.78L715.00 87.80L714.58 87.82L714.13 87.84L713.67 87.86L713.18 87.89L712.68 87.91L712.16 87.93L711.84 87.95M709.86 88.06L709.37 88.08L708.78 88.12L708.19 88.16L707.59 88.20L706.99 88.24L706.39 88.29L705.79 88.34L705.66 88.35M703.68 88.53L703.41 88.56L702.81 88.62L702.21 88.68L701.61 88.75L701.00 88.81L700.39 88.88L699.78 88.95L699.49 88.99M697.52 89.23L697.28 89.26L696.65 89.35L696.01 89.44L695.36 89.53L694.71 89.63L694.06 89.74L693.40 89.84L693.35 89.85M691.40 90.20L690.72 90.33L690.02 90.47L689.31 90.62L688.59 90.78L687.86 90.94L687.27 91.07M685.34 91.52L684.88 91.63L684.12 91.81L683.38 92.00L682.63 92.18L681.89 92.36L681.25 92.53M679.32 93.01L679.01 93.09L678.33 93.26L677.65 93.43L677.00 93.60L676.36 93.76L675.74 93.91L675.24 94.04M673.31 94.51L672.84 94.63L672.29 94.77L671.74 94.91L671.19 95.05L670.65 95.19L670.11 95.34L669.57 95.49L669.23 95.58M667.33 96.14L666.78 96.31L666.20 96.50L665.60 96.70L664.99 96.90L664.38 97.11L663.76 97.32L663.52 97.41M661.73 98.03L661.25 98.21L660.61 98.44L659.97 98.68L659.32 98.92L658.68 99.17L658.16 99.37M656.50 100.05L656.10 100.22L655.45 100.50L654.81 100.79L654.17 101.09L653.53 101.39L653.19 101.56M651.66 102.33L651.62 102.35L650.98 102.68L650.33 103.03L649.68 103.38L649.03 103.74L648.62 103.97M647.21 104.77L647.08 104.85L646.44 105.23L645.79 105.62L645.16 106.01L644.52 106.41L644.40 106.49M643.11 107.33L642.66 107.63L642.05 108.04L641.46 108.46L640.87 108.88L640.55 109.12M639.38 110.01L639.18 110.17L638.62 110.62L638.07 111.07L637.53 111.54L637.12 111.90M636.09 112.82L635.94 112.96L635.42 113.45L634.91 113.93L634.41 114.42L634.09 114.72" fill="none" stroke="#ed1c24" stroke-width="1.15" stroke-linejoin="round"/>
<path d="M723.33 87.67L726.17 86.21L726.20 89.07ZM717.15 87.72L719.93 86.31L719.95 89.10ZM710.98 87.99L713.63 86.50L713.77 89.22ZM704.82 88.42L707.35 86.87L707.58 89.51ZM698.67 89.08L701.09 87.50L701.40 90.07ZM692.56 89.99L694.83 88.32L695.26 90.81ZM686.51 91.24L688.64 89.50L689.18 91.90ZM680.51 92.71L682.54 90.97L683.12 93.29ZM674.52 94.22L676.49 92.53L677.05 94.79ZM668.54 95.78L670.41 94.08L671.02 96.25ZM662.86 97.63L664.57 95.89L665.29 97.96ZM657.53 99.62L659.12 97.85L659.90 99.83ZM652.60 101.85L654.00 100.01L654.91 101.87ZM648.06 104.28L649.33 102.42L650.31 104.17ZM643.88 106.82L645.00 104.94L646.05 106.59ZM640.06 109.48L641.03 107.58L642.15 109.12ZM636.68 112.29L637.46 110.37L638.68 111.76ZM633.68 115.13L634.34 113.22L635.60 114.51Z" fill="#ed1c24"/>
<path d="M770.10 63.50L770.08 63.60L770.05 63.71L770.02 63.84L769.99 63.99L769.95 64.15L769.92 64.32L769.88 64.50L769.83 64.69L769.79 64.89L769.74 65.09L769.70 65.29L769.65 65.50L769.60 65.70L769.56 65.91L769.51 66.11L769.47 66.30L769.42 66.49L769.38 66.67L769.34 66.84L769.30 67.00L769.26 67.15L769.23 67.31L769.20 67.46L769.17 67.61L769.14 67.76L769.11 67.91L769.08 68.06L769.06 68.20L769.03 68.34L769.00 68.48L768.97 68.62L768.94 68.75L768.91 68.87L768.87 69.00L768.84 69.11L768.80 69.22L768.75 69.33L768.71 69.43L768.66 69.52L768.60 69.60L768.54 69.68L768.49 69.74L768.44 69.80" fill="none" stroke="#ed1c24" stroke-width="1.3" stroke-linejoin="round"/>
<path d="M628.63 115.46L628.16 116.02L627.70 116.56L627.25 117.10L626.82 117.62L626.40 118.12L626.00 118.60L625.62 119.07L625.25 119.52L624.90 119.96L624.57 120.38L624.25 120.80L623.95 121.21L623.66 121.61L623.37 122.00L623.10 122.39L622.84 122.77L622.58 123.14L622.33 123.52L622.08 123.89L621.83 124.26L621.58 124.63L621.33 125.00L621.08 125.37L620.83 125.74L620.57 126.12L620.30 126.50L620.03 126.89L619.75 127.28L619.47 127.67L619.20 128.07L618.91 128.46L618.63 128.86L618.36 129.25L618.08 129.65L617.80 130.04L617.53 130.43L617.26 130.82L617.00 131.20L616.75 131.58L616.50 131.95L616.26 132.31L616.02 132.67L615.80 133.01L615.59 133.35L615.39 133.68L615.20 134.00L615.02 134.31L614.86 134.61L614.70 134.90L614.55 135.18L614.41 135.45L614.28 135.72L614.16 135.97L614.04 136.23L613.93 136.48L613.83 136.72L613.73 136.96L613.63 137.19L613.54 137.42L613.46 137.65L613.38 137.88L613.30 138.10L613.22 138.33L613.15 138.55L613.07 138.78L613.00 139.00L612.93 139.22L612.86 139.44L612.80 139.66L612.74 139.88L612.68 140.09L612.63 140.30L612.58 140.51L612.54 140.71L612.49 140.91L612.46 141.11L612.42 141.31L612.39 141.51L612.37 141.70L612.35 141.89L612.33 142.08L612.31 142.27L612.30 142.45L612.30 142.64L612.30 142.82L612.30 143.00L612.31 143.18L612.32 143.36L612.34 143.54L612.36 143.73L612.39 143.91L612.42 144.09L612.46 144.27L612.50 144.44L612.55 144.62L612.59 144.79L612.64 144.95L612.70 145.12L612.75 145.27L612.81 145.43L612.87 145.57L612.94 145.71L613.00 145.85L613.07 145.97L613.13 146.09L613.20 146.20L613.27 146.30L613.34 146.40L613.42 146.49L613.50 146.58L613.58 146.66L613.67 146.73L613.76 146.80L613.85 146.86L613.94 146.92L614.03 146.97L614.13 147.02L614.22 147.06L614.32 147.10L614.42 147.13L614.51 147.16L614.61 147.18L614.71 147.19L614.81 147.20L614.90 147.20L615.00 147.20L615.09 147.20L615.18 147.19L615.26 147.19L615.34 147.19L615.42 147.18L615.49 147.17L615.57 147.16L615.64 147.14L615.72 147.12L615.80 147.08L615.88 147.04L615.97 146.98L616.07 146.91L616.17 146.83L616.28 146.74L616.40 146.63L616.54 146.50L616.68 146.35L616.83 146.19L617.00 146.00L617.19 145.78L617.40 145.52L617.64 145.23L617.89 144.90L618.16 144.55L618.44 144.18L618.73 143.79L619.02 143.39L619.32 142.99L619.62 142.57L619.92 142.17L620.22 141.76L620.50 141.37L620.77 140.99L621.03 140.63L621.27 140.30L621.49 139.99L621.69 139.72L621.86 139.49L622.00 139.30" fill="none" stroke="#ed1c24" stroke-width="1.3" stroke-linejoin="round"/>
<path d="M767.54 70.15L767.44 70.16L767.31 70.17L767.16 70.18L767.00 70.20L766.83 70.22L766.68 70.23L766.52 70.24L766.37 70.25L766.22 70.25L766.06 70.25L765.90 70.26L765.73 70.26L765.54 70.26L765.34 70.26L765.12 70.26L764.87 70.26L764.61 70.26L764.31 70.26L763.99 70.26L763.63 70.26L763.23 70.27L762.80 70.28L762.32 70.29L762.01 70.29M759.15 70.35L758.47 70.36L757.68 70.37L756.86 70.39L756.01 70.40L755.14 70.41L754.25 70.43L753.68 70.44M750.86 70.52L750.58 70.53L749.66 70.56L748.74 70.60L747.83 70.64L746.94 70.69L746.06 70.74L745.46 70.78M742.68 71.01L742.61 71.02L741.73 71.11L740.84 71.20L739.95 71.30L739.06 71.40L738.16 71.50L737.36 71.60M734.62 71.94L734.61 71.94L733.73 72.06L732.87 72.17L732.02 72.28L731.18 72.39L730.36 72.50L729.55 72.60L729.38 72.62M726.67 72.97L726.52 72.99L725.80 73.08L725.10 73.17L724.41 73.26L723.73 73.35L723.06 73.43L722.40 73.52L721.75 73.61L721.48 73.64M718.82 74.02L718.62 74.04L718.01 74.13L717.40 74.22L716.80 74.32L716.20 74.41L715.60 74.50L715.00 74.60L714.41 74.70L713.85 74.79L713.70 74.81M711.07 75.24L710.73 75.29L710.24 75.38L709.74 75.47L709.23 75.56L708.72 75.66L708.20 75.76L707.66 75.87L707.11 75.99L706.54 76.11L706.05 76.22M703.49 76.83L703.29 76.87L702.56 77.06L701.80 77.25L701.01 77.45L700.21 77.65L699.39 77.87L698.59 78.08M696.08 78.76L695.97 78.79L695.09 79.03L694.21 79.28L693.32 79.53L692.43 79.79L691.54 80.05L691.27 80.13M688.81 80.89L688.05 81.13L687.20 81.40L686.35 81.68L685.50 81.97L684.63 82.26L684.11 82.44M681.70 83.29L681.13 83.50L680.25 83.82L679.37 84.15L678.49 84.48L677.62 84.80L677.11 85.00M674.76 85.91L674.23 86.12L673.41 86.44L672.61 86.76L671.82 87.08L671.05 87.39L670.30 87.70L670.25 87.72M667.95 88.69L667.43 88.92L666.74 89.22L666.06 89.52L665.39 89.82L664.74 90.12L664.09 90.42L663.58 90.66M661.34 91.73L661.00 91.89L660.41 92.18L659.83 92.47L659.26 92.76L658.70 93.04L658.14 93.32L657.60 93.60L657.10 93.86M654.94 95.00L654.77 95.10L654.35 95.33L653.94 95.56L653.54 95.79L653.14 96.02L652.75 96.25L652.34 96.49L651.94 96.74L651.52 97.00L651.14 97.23M649.23 98.46L649.22 98.46L648.70 98.80L648.15 99.16L647.58 99.52L646.99 99.90L646.38 100.29L645.80 100.67M644.03 101.81L643.81 101.96L643.14 102.39L642.48 102.84L641.81 103.29L641.14 103.75L640.89 103.92M639.30 105.06L639.16 105.16L638.52 105.64L637.89 106.13L637.28 106.61L636.68 107.11L636.54 107.22M635.19 108.42L634.97 108.62L634.41 109.16L633.85 109.71L633.30 110.27L632.87 110.71M631.73 111.93L631.67 111.99L631.14 112.57L630.62 113.16L630.11 113.74L629.73 114.17" fill="none" stroke="#ed1c24" stroke-width="1.4" stroke-linejoin="round"/>
<path d="M760.96 70.32L764.21 68.59L764.29 71.88ZM752.66 70.47L755.84 68.79L755.90 72.00ZM744.46 70.85L747.48 69.07L747.70 72.20ZM736.39 71.71L739.24 69.83L739.61 72.87ZM728.44 72.75L731.20 70.89L731.58 73.84ZM720.57 73.77L723.25 71.94L723.64 74.82ZM712.82 74.95L715.38 73.11L715.83 75.90ZM705.20 76.41L707.59 74.46L708.19 77.15ZM697.77 78.30L700.02 76.32L700.70 78.91ZM690.47 80.37L692.60 78.37L693.35 80.87ZM683.34 82.71L685.32 80.68L686.16 83.08ZM676.38 85.28L678.24 83.25L679.12 85.55ZM669.55 88.01L671.30 85.99L672.22 88.20ZM662.91 90.97L664.52 88.94L665.50 91.04ZM656.46 94.19L657.95 92.15L658.98 94.16ZM650.55 97.60L651.83 95.52L652.99 97.37ZM645.23 101.03L646.44 98.99L647.59 100.78ZM640.35 104.30L641.45 102.27L642.64 103.96ZM636.06 107.64L636.93 105.57L638.24 107.10ZM632.44 111.15L633.10 109.06L634.51 110.43ZM629.33 114.63L629.86 112.56L631.31 113.82Z" fill="#ed1c24"/>
<path d="M809.10 41.00L809.01 41.17L808.91 41.36L808.80 41.58L808.67 41.83L808.53 42.09L808.38 42.38L808.22 42.68L808.06 43.00L807.89 43.33L807.71 43.67L807.53 44.01L807.35 44.36L807.17 44.71L806.99 45.06L806.81 45.41L806.64 45.75L806.47 46.08L806.30 46.40L806.15 46.71L806.00 47.00L805.86 47.29L805.72 47.58L805.57 47.87L805.43 48.17L805.29 48.47L805.15 48.77L805.01 49.07L804.88 49.37L804.74 49.67L804.61 49.96L804.47 50.24L804.34 50.52L804.22 50.78L804.09 51.04L803.97 51.29L803.85 51.52L803.73 51.74L803.62 51.94L803.51 52.13L803.40 52.30L803.30 52.45L803.21 52.58L803.14 52.70L803.07 52.80L803.00 52.89L802.95 52.97L802.89 53.03" fill="none" stroke="#ed1c24" stroke-width="1.35" stroke-linejoin="round"/>
<path d="M625.85 113.85L625.64 114.12L625.45 114.39L625.26 114.65L625.07 114.91L624.89 115.17L624.71 115.43L624.53 115.69L624.35 115.96L624.17 116.22L623.99 116.49L623.81 116.77L623.62 117.05L623.43 117.34L623.24 117.64L623.03 117.95L622.82 118.27L622.60 118.60L622.37 118.94L622.14 119.30L621.89 119.66L621.65 120.04L621.39 120.42L621.14 120.81L620.88 121.21L620.61 121.61L620.35 122.02L620.08 122.43L619.81 122.84L619.55 123.26L619.28 123.67L619.02 124.09L618.75 124.50L618.49 124.91L618.24 125.31L617.99 125.72L617.74 126.11L617.50 126.50L617.26 126.89L617.02 127.27L616.78 127.66L616.54 128.05L616.30 128.44L616.06 128.83L615.82 129.21L615.58 129.60L615.34 129.99L615.11 130.37L614.88 130.75L614.66 131.13L614.44 131.50L614.23 131.87L614.02 132.24L613.82 132.60L613.63 132.96L613.44 133.31L613.27 133.66L613.10 134.00L612.94 134.34L612.79 134.67L612.65 135.00L612.51 135.33L612.38 135.65L612.25 135.97L612.14 136.29L612.02 136.60L611.91 136.91L611.81 137.22L611.71 137.52L611.62 137.82L611.53 138.11L611.45 138.39L611.37 138.68L611.29 138.95L611.21 139.22L611.14 139.49L611.07 139.75L611.00 140.00L610.93 140.25L610.87 140.48L610.81 140.71L610.76 140.93L610.70 141.15L610.66 141.36L610.61 141.56L610.57 141.76L610.53 141.95L610.50 142.14L610.47 142.33L610.45 142.52L610.42 142.70L610.41 142.89L610.40 143.07L610.39 143.25L610.38 143.44L610.38 143.62L610.39 143.81L610.40 144.00L610.42 144.19L610.44 144.39L610.46 144.59L610.50 144.80L610.53 145.00L610.58 145.21L610.62 145.41L610.67 145.62L610.73 145.82L610.79 146.02L610.85 146.22L610.91 146.41L610.98 146.59L611.05 146.78L611.12 146.95L611.20 147.12L611.27 147.28L611.35 147.43L611.42 147.57L611.50 147.70L611.58 147.82L611.66 147.94L611.75 148.05L611.83 148.16L611.92 148.26L612.02 148.35L612.11 148.44L612.21 148.53L612.31 148.60L612.41 148.68L612.52 148.74L612.62 148.80L612.73 148.85L612.83 148.89L612.94 148.93L613.05 148.96L613.16 148.98L613.28 148.99L613.39 149.00L613.50 149.00L613.61 148.99L613.73 148.97L613.84 148.95L613.96 148.92L614.08 148.88L614.20 148.83L614.32 148.78L614.44 148.72L614.56 148.65L614.69 148.58L614.81 148.50L614.94 148.41L615.07 148.32L615.20 148.22L615.33 148.12L615.46 148.00L615.59 147.89L615.73 147.76L615.86 147.63L616.00 147.50L616.14 147.36L616.28 147.20L616.42 147.04L616.57 146.86L616.71 146.68L616.86 146.49L617.01 146.29L617.16 146.09L617.32 145.88L617.47 145.67L617.62 145.45L617.78 145.23L617.93 145.01L618.08 144.79L618.24 144.57L618.39 144.35L618.55 144.13L618.70 143.92L618.85 143.71L619.00 143.50L619.15 143.29L619.31 143.07L619.48 142.84L619.65 142.61L619.82 142.37L619.99 142.12L620.17 141.88L620.34 141.63L620.52 141.39L620.69 141.15L620.85 140.92L621.02 140.69L621.17 140.47L621.32 140.26L621.46 140.06L621.59 139.87L621.71 139.70L621.82 139.55L621.92 139.42L622.00 139.30" fill="none" stroke="#ed1c24" stroke-width="1.35" stroke-linejoin="round"/>
<path d="M800.99 53.52L800.97 53.52L800.85 53.52L800.72 53.53L800.56 53.53L800.36 53.53L800.13 53.53L799.86 53.53L799.53 53.54L799.16 53.54L798.72 53.55L798.22 53.56L797.65 53.58L797.00 53.60L796.27 53.62L795.44 53.64L794.54 53.66L793.87 53.68M790.21 53.75L789.09 53.78L787.87 53.80L786.62 53.83L785.35 53.86L784.07 53.90L783.15 53.92M779.52 54.04L778.97 54.06L777.75 54.11L776.55 54.17L775.40 54.23L774.30 54.30L773.23 54.37L772.53 54.42M768.94 54.71L768.03 54.79L767.02 54.88L766.01 54.98L765.00 55.08L764.00 55.18L763.00 55.29L762.03 55.40M758.48 55.82L758.02 55.87L757.02 56.00L756.02 56.13L755.01 56.26L754.00 56.40L752.98 56.54L751.97 56.68L751.66 56.73M748.15 57.25L747.91 57.29L746.89 57.45L745.88 57.61L744.86 57.77L743.84 57.94L742.83 58.12L741.81 58.29L741.41 58.36M737.95 58.99L737.75 59.02L736.74 59.21L735.73 59.41L734.71 59.60L733.70 59.80L732.68 60.00L731.65 60.21L731.31 60.28M727.90 61.00L727.42 61.10L726.36 61.33L725.29 61.57L724.23 61.81L723.17 62.04L722.13 62.28L721.34 62.47M717.98 63.27L717.11 63.48L716.17 63.71L715.25 63.95L714.36 64.18L713.50 64.40L712.66 64.62L711.84 64.85L711.54 64.94M708.25 65.93L707.92 66.03L707.18 66.27L706.46 66.50L705.76 66.73L705.08 66.96L704.42 67.18L703.79 67.40L703.17 67.61L702.58 67.81L702.01 68.01L701.99 68.02M698.77 69.12L698.74 69.13L698.55 69.20L698.40 69.26L698.28 69.30L698.18 69.35L698.10 69.39L698.01 69.43L697.92 69.47L697.82 69.51L697.70 69.57L697.55 69.63L697.37 69.71L697.13 69.81L696.85 69.92L696.51 70.06L696.09 70.21L695.60 70.40L695.04 70.61L694.42 70.83L693.74 71.07L693.02 71.32L692.97 71.34M689.95 72.39L689.74 72.46L688.84 72.78L687.93 73.10L686.99 73.43L686.05 73.77L685.11 74.12L684.45 74.36M681.65 75.45L681.35 75.57L680.44 75.94L679.56 76.32L678.70 76.70L677.85 77.09L677.00 77.49L676.58 77.69M674.01 78.96L673.52 79.21L672.65 79.66L671.78 80.12L670.90 80.58L670.04 81.04L669.31 81.44M666.92 82.76L666.64 82.91L665.81 83.38L665.00 83.84L664.20 84.29L663.41 84.73L662.65 85.17L662.48 85.27M660.21 86.59L659.74 86.87L659.04 87.30L658.35 87.72L657.67 88.14L657.00 88.56L656.34 88.98L656.07 89.16M653.95 90.52L653.81 90.62L653.20 91.01L652.60 91.40L652.01 91.79L651.43 92.17L650.86 92.54L650.30 92.90L650.10 93.03M648.09 94.28L647.65 94.55L647.17 94.84L646.70 95.12L646.23 95.39L645.78 95.66L645.34 95.92L644.91 96.17L644.48 96.42L644.37 96.49M642.48 97.67L642.40 97.72L641.99 97.99L641.57 98.27L641.15 98.57L640.73 98.88L640.30 99.20L639.87 99.54L639.43 99.89L639.19 100.08M637.59 101.43L637.20 101.77L636.76 102.16L636.32 102.56L635.88 102.96L635.45 103.36L635.02 103.76L634.76 104.02M633.33 105.39L632.99 105.72L632.62 106.09L632.25 106.45L631.90 106.80L631.56 107.14L631.23 107.48L630.91 107.81L630.81 107.92M629.57 109.27L629.45 109.41L629.18 109.72L628.92 110.03L628.66 110.33L628.41 110.63L628.16 110.93L627.92 111.23L627.67 111.53L627.48 111.76M626.44 113.07L626.27 113.29L626.05 113.57L625.85 113.85" fill="none" stroke="#ed1c24" stroke-width="1.5" stroke-linejoin="round"/>
<path d="M792.66 53.71L796.44 51.71L796.53 55.54ZM781.97 53.95L785.64 51.99L785.74 55.71ZM771.38 54.50L774.86 52.44L775.12 56.05ZM760.92 55.52L764.22 53.38L764.61 56.88ZM750.58 56.88L753.72 54.70L754.20 58.09ZM740.37 58.54L743.35 56.34L743.93 59.60ZM730.31 60.49L733.13 58.27L733.78 61.41ZM720.38 62.69L723.06 60.47L723.77 63.50ZM710.61 65.20L713.10 62.92L713.93 65.82ZM701.11 68.32L703.39 65.99L704.35 68.75ZM692.12 71.64L694.32 69.38L695.25 72.04ZM683.64 74.67L685.72 72.43L686.67 74.99ZM675.82 78.06L677.63 75.72L678.77 78.10ZM668.60 81.83L670.24 79.48L671.46 81.73ZM661.80 85.66L663.34 83.35L664.57 85.50ZM655.42 89.57L656.80 87.26L658.10 89.29ZM649.47 93.43L650.81 91.18L652.07 93.15ZM643.75 96.86L645.12 94.72L646.28 96.67ZM638.65 100.52L639.66 98.27L641.06 99.98ZM634.26 104.48L635.08 102.23L636.56 103.79ZM630.36 108.40L631.03 106.16L632.55 107.60ZM627.08 112.27L627.56 110.04L629.15 111.32ZM625.46 114.36L625.87 112.17L627.46 113.37Z" fill="#ed1c24"/>
<circle cx="576.4" cy="205.7" r="5.2" fill="#ed1c24"/>
<circle cx="622.0" cy="139.3" r="5.0" fill="#ed1c24"/>
<circle cx="657.0" cy="119.6" r="5.4" fill="#0d62b0"/>
<circle cx="694.3" cy="101.8" r="5.4" fill="#0d62b0"/>
<circle cx="731.3" cy="84.4" r="5.4" fill="#0d62b0"/>
<circle cx="770.1" cy="63.5" r="5.4" fill="#0d62b0"/>
<circle cx="809.1" cy="41.0" r="5.4" fill="#0d62b0"/>
<line x1="653.62" y1="124.56" x2="658.58" y2="117.29" stroke="#ed1c24" stroke-width="1.5" stroke-linecap="round"/>
<line x1="657.00" y1="119.60" x2="651.00" y2="121.60" stroke="#ed1c24" stroke-width="1.2" stroke-linecap="round"/>
<line x1="692.06" y1="107.37" x2="695.42" y2="99.02" stroke="#ed1c24" stroke-width="1.5" stroke-linecap="round"/>
<line x1="694.30" y1="101.80" x2="690.00" y2="103.20" stroke="#ed1c24" stroke-width="1.2" stroke-linecap="round"/>
<line x1="729.95" y1="90.25" x2="732.47" y2="79.33" stroke="#ed1c24" stroke-width="1.5" stroke-linecap="round"/>
<line x1="731.30" y1="84.40" x2="729.00" y2="87.30" stroke="#ed1c24" stroke-width="1.2" stroke-linecap="round"/>
<line x1="768.88" y1="69.37" x2="770.83" y2="59.98" stroke="#ed1c24" stroke-width="1.5" stroke-linecap="round"/>
<line x1="770.10" y1="63.50" x2="768.60" y2="69.60" stroke="#ed1c24" stroke-width="1.2" stroke-linecap="round"/>
<line x1="808.02" y1="46.90" x2="809.19" y2="40.51" stroke="#ed1c24" stroke-width="1.5" stroke-linecap="round"/>
<line x1="809.10" y1="41.00" x2="803.40" y2="52.30" stroke="#ed1c24" stroke-width="1.2" stroke-linecap="round"/>
<text x="612.00" y="178.80" font-size="14.8" font-family="Liberation Serif" fill="#231f20" textLength="19.10" lengthAdjust="spacingAndGlyphs" >I=1</text>
<text x="656.30" y="157.70" font-size="14.8" font-family="Liberation Serif" fill="#231f20" textLength="19.70" lengthAdjust="spacingAndGlyphs" >I=2</text>
<text x="698.10" y="135.30" font-size="14.8" font-family="Liberation Serif" fill="#231f20" textLength="19.20" lengthAdjust="spacingAndGlyphs" >I=3</text>
<text x="730.70" y="116.70" font-size="14.8" font-family="Liberation Serif" fill="#231f20" textLength="19.80" lengthAdjust="spacingAndGlyphs" >I=4</text>
<text x="773.70" y="90.00" font-size="14.8" font-family="Liberation Serif" fill="#231f20" textLength="19.80" lengthAdjust="spacingAndGlyphs" >I=5</text>
</svg>
</body></html>
